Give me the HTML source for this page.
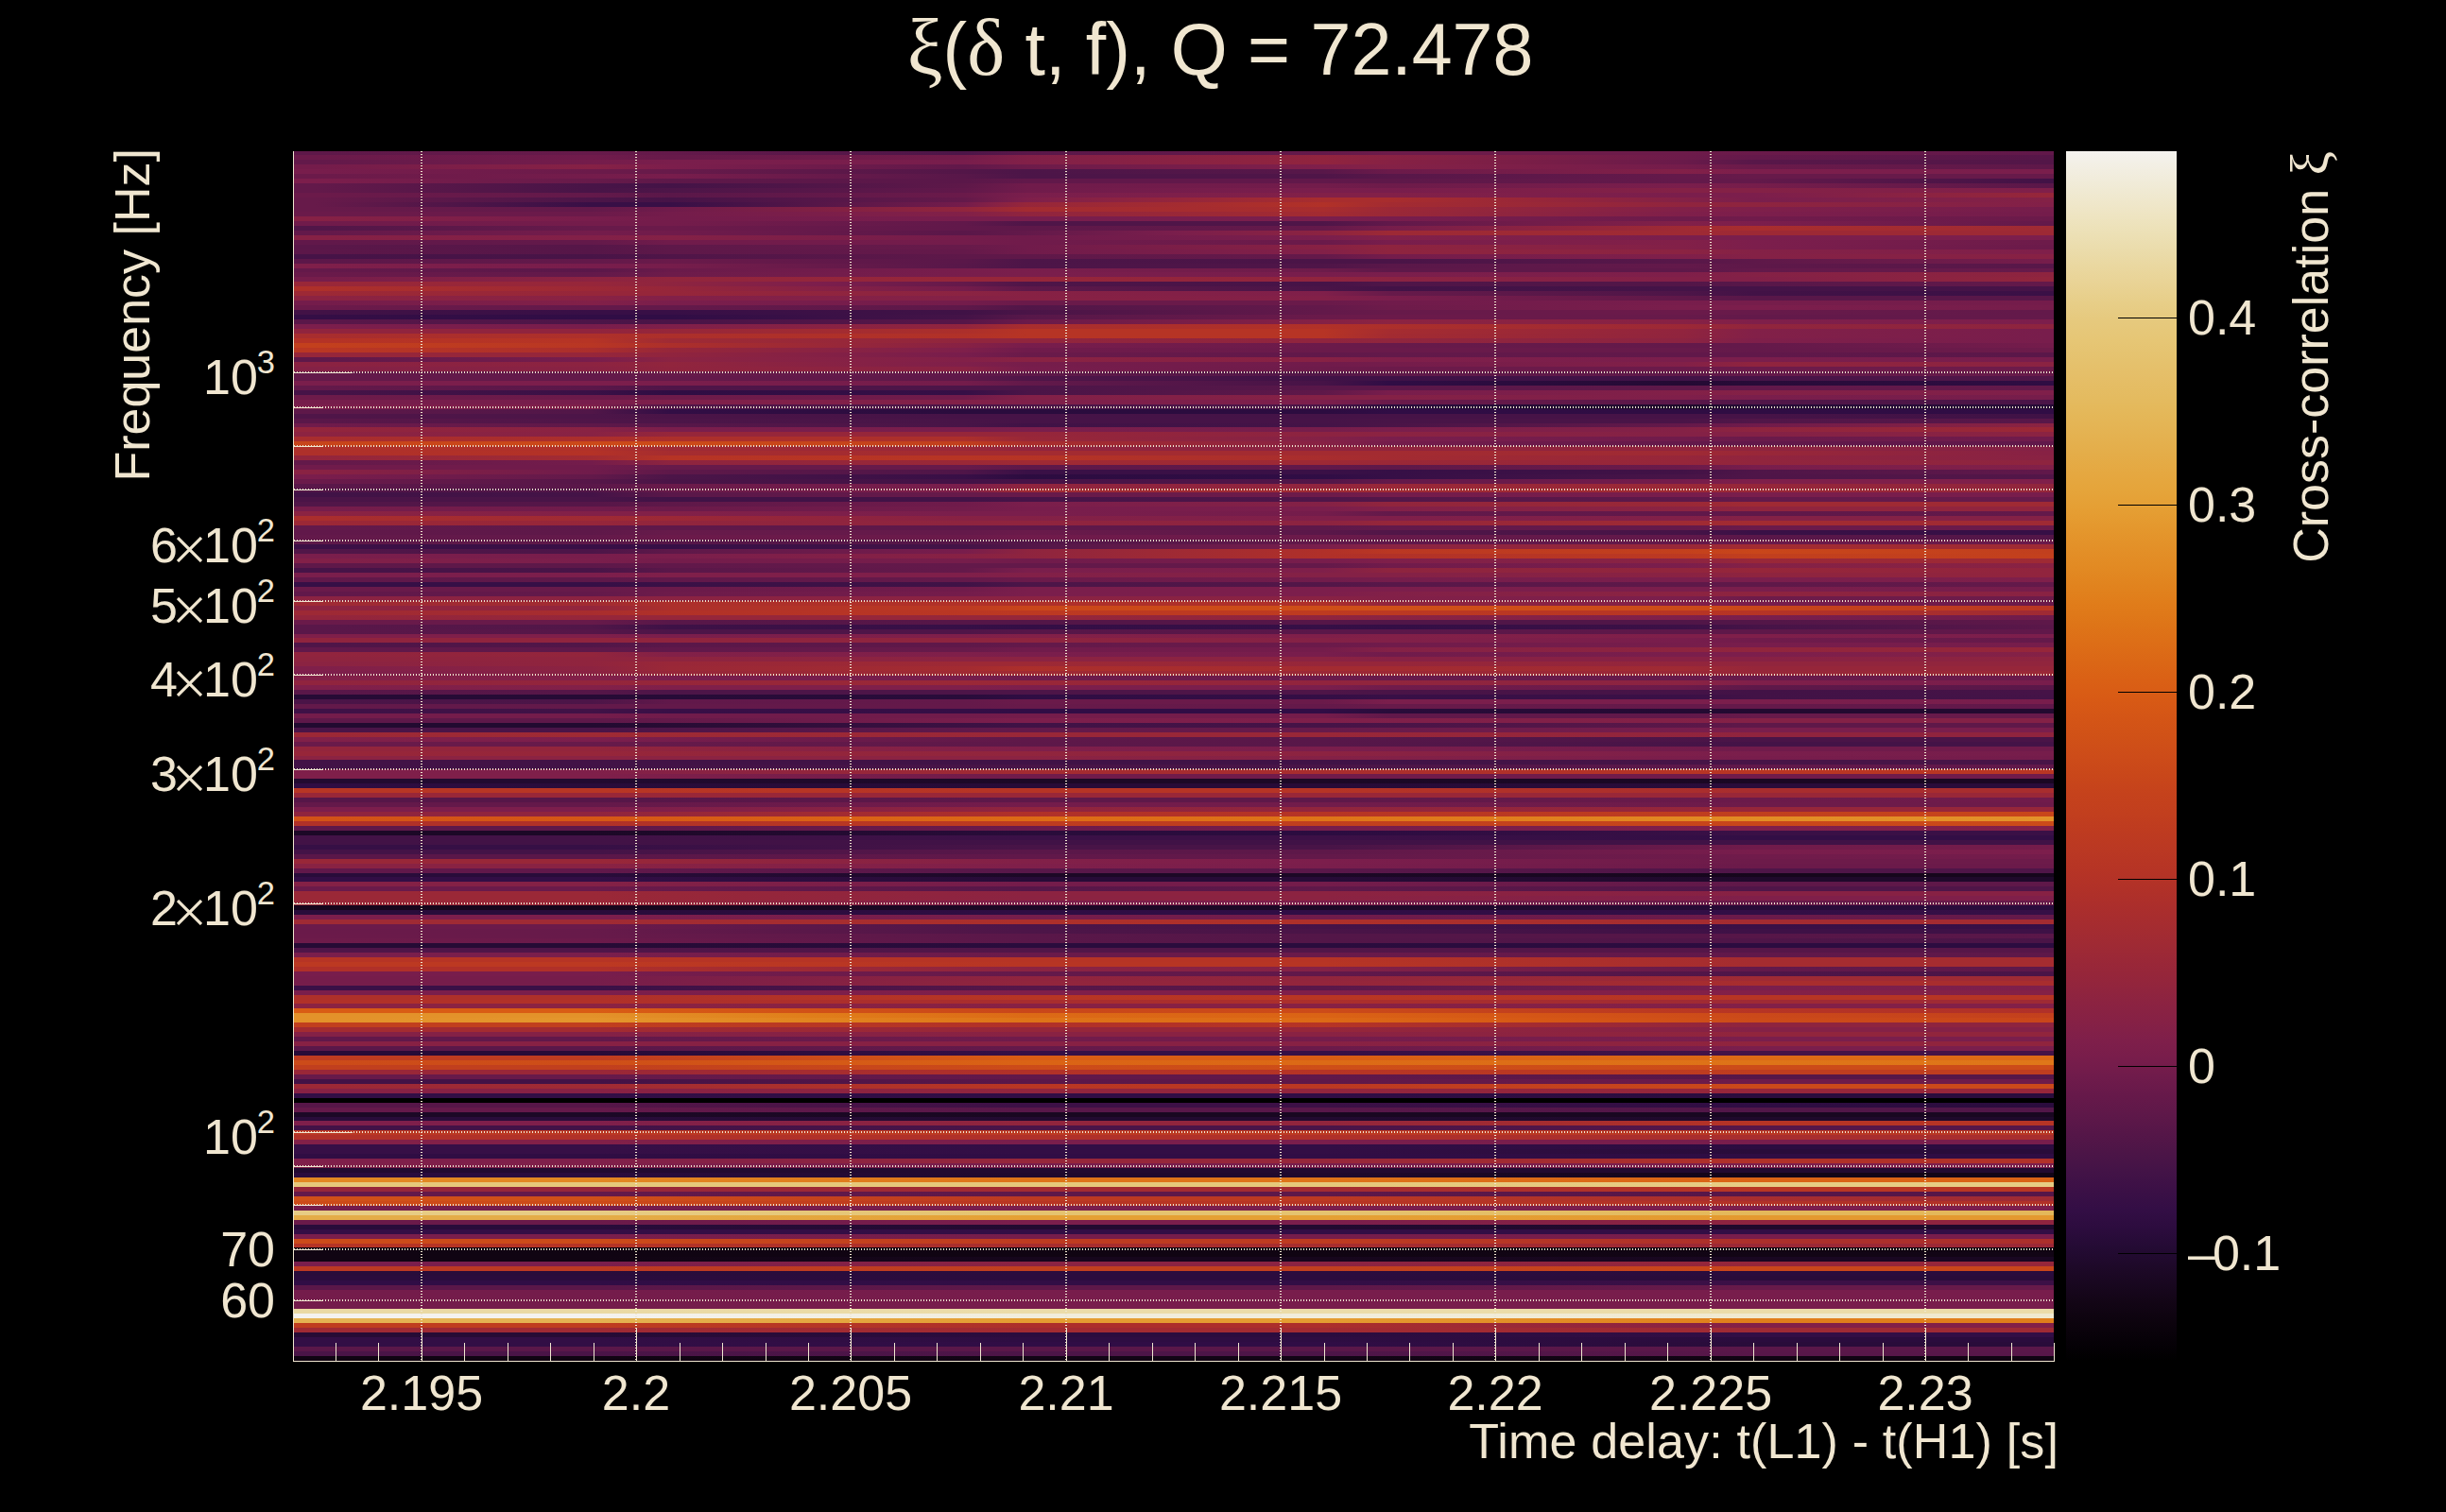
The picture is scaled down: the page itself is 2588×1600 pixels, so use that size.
<!DOCTYPE html>
<html><head><meta charset="utf-8"><title>xi</title>
<style>
html,body{margin:0;padding:0;background:#000;}
body{width:2588px;height:1600px;position:relative;overflow:hidden;font-family:"Liberation Sans",sans-serif;color:#f0e6d0;}
#heat{position:absolute;left:311px;top:160px;width:1862px;height:1280px;overflow:hidden;background:#741c4b}
#heat div{position:absolute;left:0;width:100%}
.vg{position:absolute;top:160px;width:2px;height:1280px;background:repeating-linear-gradient(180deg,#f0e6d0 0 1px,transparent 1px 3px)}
.hg{position:absolute;left:311px;width:1862px;height:2px;background:repeating-linear-gradient(90deg,#f0e6d0 0 1px,transparent 1px 3px)}
.tk{position:absolute;background:#f0e6d0}
.xl{position:absolute;top:1446px;width:300px;text-align:center;font-size:52px;line-height:56px;white-space:nowrap}
.yl{position:absolute;left:0;width:291px;text-align:right;font-size:52px;line-height:56px;white-space:nowrap}
.yl sup{font-size:34.5px;vertical-align:baseline;position:relative;top:-22px;margin-left:-1px;line-height:0}
.yl .x{position:relative;top:0px;margin:0 1px 0 -1px;vertical-align:baseline}
.cl{position:absolute;left:2315px;font-size:52px;line-height:56px;white-space:nowrap}
#title{position:absolute;left:-3px;top:9px;width:2588px;text-align:center;font-size:77.1px;line-height:86px;white-space:nowrap;letter-spacing:0px}
.sym{font-family:"Liberation Serif",serif;font-size:110%;line-height:0}
#xt{letter-spacing:0.15px;position:absolute;right:410px;top:1497px;font-size:52px;line-height:56px;white-space:nowrap}
#yt{position:absolute;left:112px;top:157px;width:56px;height:400px}
#yt>span{position:absolute;right:0;top:0;transform-origin:100% 0;transform:rotate(-90deg) translate(0,-56px);font-size:52px;line-height:56px;white-space:nowrap}
#ct{position:absolute;left:2417px;top:160px;width:56px;height:500px}
#ct>span{position:absolute;right:0;top:0;transform-origin:100% 0;transform:rotate(-90deg) translate(0,-56px);font-size:52px;line-height:56px;white-space:nowrap}
</style></head><body>
<div id="title"><span class="sym">&xi;</span>(<span class="sym">&delta;</span> t, f), Q = 72.478</div>
<div id="heat">
<div style="top:0px;height:4px;background:linear-gradient(90deg,#5e1849 0.0%,#5e1849 1.2%,#671a4a 16.9%,#64194a 21.4%,#4c1548 38.1%,#5a1749 41.6%,#64194a 58.5%,#6d1b4a 62.2%,#6d1b4a 78.9%,#6a1a4a 83.0%,#61184a 99.6%,#61184a 100.0%)"></div>
<div style="top:4px;height:5px;background:linear-gradient(90deg,#6b1a4a 0.0%,#6b1a4a 1.2%,#701b4b 16.9%,#671a4a 21.4%,#741c4b 38.1%,#822048 41.6%,#91243e 58.5%,#892243 62.2%,#6d1b4a 78.9%,#64194a 83.0%,#561648 99.6%,#561648 100.0%)"></div>
<div style="top:9px;height:5px;background:linear-gradient(90deg,#63194a 0.0%,#63194a 1.2%,#741c4b 16.9%,#7a1e4c 21.4%,#781d4c 38.1%,#822048 41.6%,#91243e 58.5%,#872144 62.2%,#6a1a4a 78.9%,#581749 83.0%,#531648 99.6%,#531648 100.0%)"></div>
<div style="top:14px;height:5px;background:linear-gradient(90deg,#741c4b 0.0%,#741c4b 1.2%,#862145 16.9%,#7c1e4c 21.4%,#61184a 38.1%,#6d1b4a 41.6%,#7f1f4a 58.5%,#842146 62.2%,#741c4b 78.9%,#6a1a4a 83.0%,#5e1849 99.6%,#5e1849 100.0%)"></div>
<div style="top:19px;height:5px;background:linear-gradient(90deg,#781d4c 0.0%,#781d4c 1.2%,#6b1a4a 16.9%,#671a4a 21.4%,#531648 38.1%,#4c1548 41.6%,#581749 58.5%,#6b1a4a 62.2%,#822048 78.9%,#7c1e4c 83.0%,#7a1e4c 99.6%,#7a1e4c 100.0%)"></div>
<div style="top:24px;height:5px;background:linear-gradient(90deg,#6b1a4a 0.0%,#6b1a4a 1.2%,#741c4b 16.9%,#781d4c 21.4%,#581749 38.1%,#4c1548 41.6%,#4f1548 58.5%,#581749 62.2%,#64194a 78.9%,#671a4a 83.0%,#671a4a 99.6%,#671a4a 100.0%)"></div>
<div style="top:29px;height:5px;background:linear-gradient(90deg,#7c1e4c 0.0%,#7c1e4c 1.2%,#671a4a 16.9%,#5e1849 21.4%,#5a1749 38.1%,#61184a 41.6%,#61184a 58.5%,#5e1849 62.2%,#63194a 78.9%,#63194a 83.0%,#421246 99.6%,#421246 100.0%)"></div>
<div style="top:34px;height:5px;background:linear-gradient(90deg,#63194a 0.0%,#63194a 1.2%,#481447 16.9%,#441347 21.4%,#5e1849 38.1%,#701b4b 41.6%,#721c4b 58.5%,#6d1b4a 62.2%,#7a1e4c 78.9%,#761d4b 83.0%,#5a1749 99.6%,#5a1749 100.0%)"></div>
<div style="top:39px;height:5px;background:linear-gradient(90deg,#63194a 0.0%,#63194a 1.2%,#481447 16.9%,#4d1548 21.4%,#61184a 38.1%,#701b4b 41.6%,#7a1e4c 58.5%,#781d4c 62.2%,#842146 78.9%,#842146 83.0%,#7f1f4a 99.6%,#7f1f4a 100.0%)"></div>
<div style="top:44px;height:5px;background:linear-gradient(90deg,#6b1a4a 0.0%,#6b1a4a 1.2%,#63194a 16.9%,#5a1749 21.4%,#6a1a4a 38.1%,#7a1e4c 41.6%,#822048 58.5%,#822048 62.2%,#7a1e4c 78.9%,#7c1e4c 83.0%,#96263a 99.6%,#96263a 100.0%)"></div>
<div style="top:49px;height:5px;background:linear-gradient(90deg,#671a4a 0.0%,#671a4a 1.2%,#4c1548 16.9%,#461347 21.4%,#64194a 38.1%,#7e1f4b 41.6%,#94253c 50.0%,#a82d2e 58.5%,#a82d2e 62.2%,#972639 70.6%,#842146 78.9%,#7a1e4c 83.0%,#842146 99.6%,#842146 100.0%)"></div>
<div style="top:54px;height:5px;background:linear-gradient(90deg,#671a4a 0.0%,#671a4a 1.2%,#4f1548 9.0%,#380f46 16.9%,#380f46 21.4%,#561648 29.8%,#741c4b 38.1%,#862145 39.8%,#96263a 41.6%,#b13128 58.5%,#a32b31 62.2%,#90243e 78.9%,#8e243f 83.0%,#822048 99.6%,#822048 100.0%)"></div>
<div style="top:59px;height:5px;background:linear-gradient(90deg,#671a4a 0.0%,#671a4a 1.2%,#63194a 16.9%,#701b4b 21.4%,#91253d 38.1%,#a32b31 41.6%,#a82d2e 58.5%,#9c2836 62.2%,#822048 78.9%,#7f1f4a 83.0%,#761d4b 99.6%,#761d4b 100.0%)"></div>
<div style="top:64px;height:5px;background:linear-gradient(90deg,#6a1a4a 0.0%,#6a1a4a 1.2%,#6b1a4a 16.9%,#741c4b 21.4%,#822048 38.1%,#90243e 41.6%,#a32b31 58.5%,#9a2837 62.2%,#7f1f4a 78.9%,#7c1e4c 83.0%,#741c4b 99.6%,#741c4b 100.0%)"></div>
<div style="top:69px;height:5px;background:linear-gradient(90deg,#862145 0.0%,#862145 1.2%,#781d4c 16.9%,#741c4b 21.4%,#781d4c 38.1%,#781d4c 41.6%,#7a1e4c 58.5%,#781d4c 62.2%,#6d1b4a 78.9%,#701b4b 83.0%,#6b1a4a 99.6%,#6b1a4a 100.0%)"></div>
<div style="top:74px;height:5px;background:linear-gradient(90deg,#701b4b 0.0%,#701b4b 1.2%,#741c4b 16.9%,#741c4b 21.4%,#61184a 38.1%,#4f1548 41.6%,#4f1548 58.5%,#61184a 62.2%,#822048 78.9%,#7c1e4c 83.0%,#64194a 99.6%,#64194a 100.0%)"></div>
<div style="top:79px;height:5px;background:linear-gradient(90deg,#511648 0.0%,#511648 1.2%,#671a4a 16.9%,#6b1a4a 21.4%,#61184a 38.1%,#5e1849 41.6%,#64194a 58.5%,#761d4b 62.2%,#8c2341 70.6%,#9f2a34 78.9%,#a82d2e 83.0%,#9f2a34 99.6%,#9f2a34 100.0%)"></div>
<div style="top:84px;height:5px;background:linear-gradient(90deg,#63194a 0.0%,#63194a 1.2%,#741c4b 16.9%,#701b4b 21.4%,#5a1749 38.1%,#63194a 41.6%,#7a1e4c 50.0%,#8c2341 58.5%,#9d2935 62.2%,#9f2a34 78.9%,#9d2935 83.0%,#9d2935 99.6%,#9d2935 100.0%)"></div>
<div style="top:89px;height:5px;background:linear-gradient(90deg,#862145 0.0%,#862145 1.2%,#822048 16.9%,#842146 21.4%,#741c4b 38.1%,#701b4b 41.6%,#7a1e4c 58.5%,#822048 62.2%,#7a1e4c 78.9%,#7a1e4c 83.0%,#7c1e4c 99.6%,#7c1e4c 100.0%)"></div>
<div style="top:94px;height:5px;background:linear-gradient(90deg,#61184a 0.0%,#61184a 1.2%,#63194a 16.9%,#701b4b 21.4%,#741c4b 38.1%,#701b4b 41.6%,#6a1a4a 58.5%,#781d4c 62.2%,#822048 78.9%,#7c1e4c 83.0%,#6d1b4a 99.6%,#6d1b4a 100.0%)"></div>
<div style="top:99px;height:5px;background:linear-gradient(90deg,#5a1749 0.0%,#5a1749 1.2%,#561648 16.9%,#5e1849 21.4%,#671a4a 38.1%,#701b4b 41.6%,#872144 58.5%,#8e243f 62.2%,#822048 78.9%,#7c1e4c 83.0%,#6b1a4a 99.6%,#6b1a4a 100.0%)"></div>
<div style="top:104px;height:5px;background:linear-gradient(90deg,#5c1749 0.0%,#5c1749 1.2%,#561648 16.9%,#5e1849 21.4%,#64194a 38.1%,#701b4b 41.6%,#822048 58.5%,#8e243f 62.2%,#8b2342 78.9%,#842146 83.0%,#7f1f4a 99.6%,#7f1f4a 100.0%)"></div>
<div style="top:109px;height:5px;background:linear-gradient(90deg,#461347 0.0%,#461347 1.2%,#481447 16.9%,#4f1548 21.4%,#5e1849 38.1%,#5f1849 41.6%,#64194a 58.5%,#741c4b 62.2%,#7f1f4a 78.9%,#842146 83.0%,#872144 99.6%,#872144 100.0%)"></div>
<div style="top:114px;height:5px;background:linear-gradient(90deg,#5c1749 0.0%,#5c1749 1.2%,#63194a 16.9%,#6a1a4a 21.4%,#5a1749 38.1%,#4d1548 41.6%,#4a1447 58.5%,#4a1447 62.2%,#581749 78.9%,#5e1849 83.0%,#761d4b 99.6%,#761d4b 100.0%)"></div>
<div style="top:119px;height:5px;background:linear-gradient(90deg,#7f1f4a 0.0%,#7f1f4a 1.2%,#781d4c 16.9%,#761d4b 21.4%,#581749 38.1%,#4d1548 41.6%,#4f1548 58.5%,#5a1749 62.2%,#63194a 78.9%,#5e1849 83.0%,#581749 99.6%,#581749 100.0%)"></div>
<div style="top:124px;height:4px;background:linear-gradient(90deg,#64194a 0.0%,#64194a 1.2%,#5a1749 16.9%,#6a1a4a 21.4%,#781d4c 38.1%,#7a1e4c 41.6%,#6d1b4a 58.5%,#5e1849 62.2%,#5e1849 78.9%,#63194a 83.0%,#671a4a 99.6%,#671a4a 100.0%)"></div>
<div style="top:128px;height:5px;background:linear-gradient(90deg,#6a1a4a 0.0%,#6a1a4a 1.2%,#63194a 16.9%,#6d1b4a 21.4%,#781d4c 38.1%,#7a1e4c 41.6%,#781d4c 58.5%,#7a1e4c 62.2%,#7f1f4a 78.9%,#842146 83.0%,#8e243f 99.6%,#8e243f 100.0%)"></div>
<div style="top:133px;height:5px;background:linear-gradient(90deg,#761d4b 0.0%,#761d4b 1.2%,#8c2341 16.9%,#91253d 21.4%,#96263a 38.1%,#96263a 41.6%,#90243e 58.5%,#8b2342 62.2%,#822048 78.9%,#822048 83.0%,#91253d 99.6%,#91253d 100.0%)"></div>
<div style="top:138px;height:5px;background:linear-gradient(90deg,#992738 0.0%,#992738 1.2%,#96263a 16.9%,#8e243f 21.4%,#7c1e4c 29.8%,#64194a 38.1%,#4f1548 41.6%,#461347 58.5%,#4f1548 62.2%,#531648 78.9%,#581749 83.0%,#63194a 99.6%,#63194a 100.0%)"></div>
<div style="top:143px;height:5px;background:linear-gradient(90deg,#ae302a 0.0%,#ae302a 1.2%,#9c2836 16.9%,#96263a 21.4%,#862145 29.8%,#741c4b 38.1%,#5e1849 41.6%,#4a1447 58.5%,#421246 62.2%,#441347 78.9%,#441347 83.0%,#461347 99.6%,#461347 100.0%)"></div>
<div style="top:148px;height:5px;background:linear-gradient(90deg,#9d2935 0.0%,#9d2935 1.2%,#96263a 16.9%,#96263a 21.4%,#8b2342 38.1%,#872144 41.6%,#7f1f4a 58.5%,#671a4a 62.2%,#4d1548 78.9%,#421246 83.0%,#3a1046 99.6%,#3a1046 100.0%)"></div>
<div style="top:153px;height:5px;background:linear-gradient(90deg,#8c2341 0.0%,#8c2341 1.2%,#892243 16.9%,#822048 21.4%,#842146 38.1%,#872144 41.6%,#822048 58.5%,#7a1e4c 62.2%,#5f1849 78.9%,#581749 83.0%,#581749 99.6%,#581749 100.0%)"></div>
<div style="top:158px;height:5px;background:linear-gradient(90deg,#741c4b 0.0%,#741c4b 1.2%,#822048 16.9%,#7a1e4c 21.4%,#741c4b 38.1%,#6a1a4a 41.6%,#6a1a4a 58.5%,#701b4b 62.2%,#781d4c 78.9%,#761d4b 83.0%,#741c4b 99.6%,#741c4b 100.0%)"></div>
<div style="top:163px;height:5px;background:linear-gradient(90deg,#6b1a4a 0.0%,#6b1a4a 1.2%,#63194a 16.9%,#63194a 21.4%,#5e1849 38.1%,#511648 41.6%,#63194a 58.5%,#6d1b4a 62.2%,#7a1e4c 78.9%,#7c1e4c 83.0%,#761d4b 99.6%,#761d4b 100.0%)"></div>
<div style="top:168px;height:5px;background:linear-gradient(90deg,#421246 0.0%,#421246 1.2%,#380f46 16.9%,#380f46 21.4%,#401246 38.1%,#4a1447 41.6%,#63194a 58.5%,#671a4a 62.2%,#6b1a4a 78.9%,#671a4a 83.0%,#63194a 99.6%,#63194a 100.0%)"></div>
<div style="top:173px;height:5px;background:linear-gradient(90deg,#340e45 0.0%,#340e45 1.2%,#300d45 16.9%,#300d45 21.4%,#441347 38.1%,#571749 41.6%,#6a1a4a 58.5%,#6b1a4a 62.2%,#671a4a 78.9%,#63194a 83.0%,#64194a 99.6%,#64194a 100.0%)"></div>
<div style="top:178px;height:5px;background:linear-gradient(90deg,#5a1749 0.0%,#5a1749 1.2%,#4c1548 16.9%,#4a1447 21.4%,#561648 38.1%,#6a1a4a 41.6%,#842146 58.5%,#8b2342 62.2%,#872144 78.9%,#7f1f4a 83.0%,#7c1e4c 99.6%,#7c1e4c 100.0%)"></div>
<div style="top:183px;height:5px;background:linear-gradient(90deg,#7c1e4c 0.0%,#7c1e4c 1.2%,#781d4c 16.9%,#7f1f4a 21.4%,#91243e 38.1%,#a82d2e 41.6%,#b13128 58.5%,#ac2f2b 62.2%,#9c2836 78.9%,#91253d 83.0%,#8e243f 99.6%,#8e243f 100.0%)"></div>
<div style="top:188px;height:5px;background:linear-gradient(90deg,#90243e 0.0%,#90243e 1.2%,#90243e 16.9%,#96263a 21.4%,#ac2f2b 38.1%,#b63425 41.6%,#b63425 58.5%,#a52c30 62.2%,#91243e 78.9%,#822048 83.0%,#781d4c 99.6%,#781d4c 100.0%)"></div>
<div style="top:193px;height:5px;background:linear-gradient(90deg,#a82d2e 0.0%,#a82d2e 1.2%,#ae302a 16.9%,#ac2f2b 21.4%,#b13128 38.1%,#b63425 41.6%,#b63425 58.5%,#a32b31 62.2%,#90243e 78.9%,#822048 83.0%,#781d4c 99.6%,#781d4c 100.0%)"></div>
<div style="top:198px;height:5px;background:linear-gradient(90deg,#b43226 0.0%,#b43226 1.2%,#b63425 16.9%,#9f2a34 21.4%,#91253d 38.1%,#91253d 41.6%,#90243e 58.5%,#91253d 62.2%,#8c2341 78.9%,#7f1f4a 83.0%,#781d4c 99.6%,#781d4c 100.0%)"></div>
<div style="top:203px;height:5px;background:linear-gradient(90deg,#c3401d 0.0%,#c3401d 1.2%,#b83624 16.9%,#ac2f2b 21.4%,#9a2837 29.8%,#872144 38.1%,#781d4c 41.6%,#6b1a4a 58.5%,#671a4a 62.2%,#63194a 78.9%,#64194a 83.0%,#741c4b 99.6%,#741c4b 100.0%)"></div>
<div style="top:208px;height:5px;background:linear-gradient(90deg,#ba3723 0.0%,#ba3723 1.2%,#ab2e2c 16.9%,#96263a 21.4%,#7f1f4a 38.1%,#701b4b 41.6%,#6a1a4a 58.5%,#6a1a4a 62.2%,#671a4a 78.9%,#64194a 83.0%,#6d1b4a 99.6%,#6d1b4a 100.0%)"></div>
<div style="top:213px;height:5px;background:linear-gradient(90deg,#96263a 0.0%,#96263a 1.2%,#96263a 16.9%,#90243e 21.4%,#781d4c 38.1%,#6a1a4a 41.6%,#61184a 58.5%,#63194a 62.2%,#61184a 78.9%,#61184a 83.0%,#5a1749 99.6%,#5a1749 100.0%)"></div>
<div style="top:218px;height:5px;background:linear-gradient(90deg,#5e1849 0.0%,#5e1849 1.2%,#781d4c 16.9%,#8b2342 21.4%,#822048 38.1%,#892243 41.6%,#872144 58.5%,#7f1f4a 62.2%,#7a1e4c 78.9%,#7a1e4c 83.0%,#781d4c 99.6%,#781d4c 100.0%)"></div>
<div style="top:223px;height:5px;background:linear-gradient(90deg,#8a2242 0.0%,#8a2242 1.2%,#8c2341 16.9%,#91253d 21.4%,#7f1f4a 38.1%,#761d4b 41.6%,#701b4b 58.5%,#741c4b 62.2%,#822048 78.9%,#90243e 83.0%,#8b2342 99.6%,#8b2342 100.0%)"></div>
<div style="top:228px;height:5px;background:linear-gradient(90deg,#842146 0.0%,#842146 1.2%,#892243 16.9%,#90243e 21.4%,#892243 38.1%,#781d4c 41.6%,#6d1b4a 58.5%,#6b1a4a 62.2%,#6b1a4a 78.9%,#6d1b4a 83.0%,#6d1b4a 99.6%,#6d1b4a 100.0%)"></div>
<div style="top:233px;height:5px;background:linear-gradient(90deg,#63194a 0.0%,#63194a 1.2%,#63194a 16.9%,#671a4a 21.4%,#61184a 38.1%,#5f1849 41.6%,#511648 58.5%,#5e1849 62.2%,#5f1849 78.9%,#64194a 83.0%,#671a4a 99.6%,#671a4a 100.0%)"></div>
<div style="top:238px;height:5px;background:linear-gradient(90deg,#63194a 0.0%,#63194a 1.2%,#63194a 16.9%,#64194a 21.4%,#5e1849 38.1%,#4f1548 41.6%,#401246 58.5%,#3e1146 62.2%,#401246 78.9%,#461347 83.0%,#511648 99.6%,#511648 100.0%)"></div>
<div style="top:243px;height:5px;background:linear-gradient(90deg,#7a1e4c 0.0%,#7a1e4c 1.2%,#7c1e4c 16.9%,#7a1e4c 21.4%,#741c4b 38.1%,#63194a 41.6%,#461347 58.5%,#300d45 62.2%,#240a33 78.9%,#280b38 83.0%,#2f0d43 99.6%,#2f0d43 100.0%)"></div>
<div style="top:248px;height:5px;background:linear-gradient(90deg,#63194a 0.0%,#63194a 1.2%,#5a1749 16.9%,#4f1548 21.4%,#4c1548 38.1%,#4c1548 41.6%,#581749 58.5%,#5a1749 62.2%,#5e1849 78.9%,#61184a 83.0%,#63194a 99.6%,#63194a 100.0%)"></div>
<div style="top:253px;height:5px;background:linear-gradient(90deg,#461347 0.0%,#461347 1.2%,#3a1046 16.9%,#2f0d43 21.4%,#360f46 38.1%,#4a1447 41.6%,#5f1849 58.5%,#781d4c 62.2%,#822048 78.9%,#842146 83.0%,#7f1f4a 99.6%,#7f1f4a 100.0%)"></div>
<div style="top:258px;height:5px;background:linear-gradient(90deg,#6d1b4a 0.0%,#6d1b4a 1.2%,#6b1a4a 16.9%,#6d1b4a 21.4%,#701b4b 38.1%,#822048 41.6%,#842146 58.5%,#842146 62.2%,#7f1f4a 78.9%,#7a1e4c 83.0%,#761d4b 99.6%,#761d4b 100.0%)"></div>
<div style="top:263px;height:5px;background:linear-gradient(90deg,#761d4b 0.0%,#761d4b 1.2%,#781d4c 16.9%,#7f1f4a 21.4%,#822048 38.1%,#7f1f4a 41.6%,#7c1e4c 58.5%,#6a1a4a 62.2%,#5a1749 78.9%,#511648 83.0%,#4a1447 99.6%,#4a1447 100.0%)"></div>
<div style="top:268px;height:5px;background:linear-gradient(90deg,#7c1e4c 0.0%,#7c1e4c 1.2%,#7f1f4a 16.9%,#691a4a 19.2%,#511648 21.4%,#4c1548 38.1%,#4c1548 41.6%,#4c1548 58.5%,#2a0c3d 62.2%,#1f092b 78.9%,#270b37 83.0%,#270b37 99.6%,#270b37 100.0%)"></div>
<div style="top:273px;height:5px;background:linear-gradient(90deg,#5e1849 0.0%,#5e1849 1.2%,#511648 16.9%,#320e45 21.4%,#2a0c3d 38.1%,#2a0c3d 41.6%,#2c0c40 58.5%,#300d45 62.2%,#2f0d43 78.9%,#2f0d43 83.0%,#300d45 99.6%,#300d45 100.0%)"></div>
<div style="top:278px;height:5px;background:linear-gradient(90deg,#4f1548 0.0%,#4f1548 1.2%,#4c1548 16.9%,#4a1447 21.4%,#461347 38.1%,#461347 41.6%,#441347 58.5%,#461347 62.2%,#461347 78.9%,#461347 83.0%,#401246 99.6%,#401246 100.0%)"></div>
<div style="top:283px;height:5px;background:linear-gradient(90deg,#5a1749 0.0%,#5a1749 1.2%,#4f1548 16.9%,#4c1548 21.4%,#481447 38.1%,#461347 41.6%,#461347 58.5%,#481447 62.2%,#4a1447 78.9%,#511648 83.0%,#581749 99.6%,#581749 100.0%)"></div>
<div style="top:288px;height:4px;background:linear-gradient(90deg,#701b4b 0.0%,#701b4b 1.2%,#5e1849 16.9%,#581749 21.4%,#481447 38.1%,#401246 41.6%,#441347 58.5%,#4a1447 62.2%,#64194a 78.9%,#701b4b 83.0%,#8b2342 99.6%,#8b2342 100.0%)"></div>
<div style="top:292px;height:5px;background:linear-gradient(90deg,#93253c 0.0%,#93253c 1.2%,#892243 16.9%,#7a1e4c 21.4%,#781d4c 38.1%,#7a1e4c 41.6%,#761d4b 58.5%,#7a1e4c 62.2%,#842146 78.9%,#8e243f 83.0%,#9c2836 99.6%,#9c2836 100.0%)"></div>
<div style="top:297px;height:5px;background:linear-gradient(90deg,#8c2341 0.0%,#8c2341 1.2%,#882244 16.9%,#96263a 21.4%,#96263a 38.1%,#96263a 41.6%,#8c2341 58.5%,#8b2342 62.2%,#842146 78.9%,#842146 83.0%,#8b2342 99.6%,#8b2342 100.0%)"></div>
<div style="top:302px;height:5px;background:linear-gradient(90deg,#a82d2e 0.0%,#a82d2e 1.2%,#ab2e2c 16.9%,#ac2f2b 21.4%,#ac2f2b 38.1%,#992738 41.6%,#842146 58.5%,#7a1e4c 62.2%,#701b4b 78.9%,#6a1a4a 83.0%,#701b4b 99.6%,#701b4b 100.0%)"></div>
<div style="top:307px;height:5px;background:linear-gradient(90deg,#c7441b 0.0%,#c7441b 1.2%,#cb491a 16.9%,#cc4b19 21.4%,#c13f1e 38.1%,#b73524 39.8%,#aa2e2d 41.6%,#992738 50.0%,#872144 58.5%,#741c4b 62.2%,#64194a 78.9%,#61184a 83.0%,#61184a 99.6%,#61184a 100.0%)"></div>
<div style="top:312px;height:5px;background:linear-gradient(90deg,#ae302a 0.0%,#ae302a 1.2%,#b13128 16.9%,#9f2a34 21.4%,#992738 38.1%,#91243e 41.6%,#8b2342 58.5%,#90243e 62.2%,#90243e 78.9%,#8e243f 83.0%,#842146 99.6%,#842146 100.0%)"></div>
<div style="top:317px;height:5px;background:linear-gradient(90deg,#ae302a 0.0%,#ae302a 1.2%,#b43226 16.9%,#a52c30 21.4%,#a32b31 38.1%,#a32b31 41.6%,#a32b31 58.5%,#a32b31 62.2%,#9f2a34 78.9%,#992738 83.0%,#872144 99.6%,#872144 100.0%)"></div>
<div style="top:322px;height:5px;background:linear-gradient(90deg,#93253c 0.0%,#93253c 1.2%,#a22b32 16.9%,#b63425 21.4%,#b73524 38.1%,#b63425 41.6%,#a82d2e 58.5%,#a32b31 62.2%,#96263a 78.9%,#91243e 83.0%,#892243 99.6%,#892243 100.0%)"></div>
<div style="top:327px;height:5px;background:linear-gradient(90deg,#63194a 0.0%,#63194a 1.2%,#741c4b 16.9%,#8e243f 21.4%,#9a2837 38.1%,#9f2a34 41.6%,#9d2935 58.5%,#9a2837 62.2%,#96263a 78.9%,#91253d 83.0%,#8e243f 99.6%,#8e243f 100.0%)"></div>
<div style="top:332px;height:5px;background:linear-gradient(90deg,#701b4b 0.0%,#701b4b 1.2%,#701b4b 16.9%,#671a4a 21.4%,#671a4a 38.1%,#5e1849 41.6%,#61184a 58.5%,#5e1849 62.2%,#6b1a4a 78.9%,#781d4c 83.0%,#822048 99.6%,#822048 100.0%)"></div>
<div style="top:337px;height:5px;background:linear-gradient(90deg,#892243 0.0%,#892243 1.2%,#701b4b 16.9%,#5e1849 21.4%,#4f1548 38.1%,#3a1046 41.6%,#3a1046 58.5%,#360f46 62.2%,#421246 78.9%,#4f1548 83.0%,#61184a 99.6%,#61184a 100.0%)"></div>
<div style="top:342px;height:5px;background:linear-gradient(90deg,#7a1d4c 0.0%,#7a1d4c 1.2%,#63194a 16.9%,#4c1548 21.4%,#380f46 38.1%,#2c0c40 41.6%,#300d45 58.5%,#360f46 62.2%,#481447 78.9%,#4f1548 83.0%,#531648 99.6%,#531648 100.0%)"></div>
<div style="top:347px;height:5px;background:linear-gradient(90deg,#6b1a4a 0.0%,#6b1a4a 1.2%,#561648 16.9%,#4a1447 21.4%,#421246 38.1%,#461347 41.6%,#511648 58.5%,#63194a 62.2%,#741c4b 78.9%,#7f1f4a 83.0%,#7f1f4a 99.6%,#7f1f4a 100.0%)"></div>
<div style="top:352px;height:5px;background:linear-gradient(90deg,#5a1749 0.0%,#5a1749 1.2%,#5a1749 16.9%,#6a1a4a 21.4%,#7a1e4c 38.1%,#90243e 41.6%,#91243e 58.5%,#992738 62.2%,#9a2837 78.9%,#96263a 83.0%,#91253d 99.6%,#91253d 100.0%)"></div>
<div style="top:357px;height:4px;background:linear-gradient(90deg,#511648 0.0%,#511648 1.2%,#511648 16.9%,#671a4a 21.4%,#7f1f4a 38.1%,#90243e 39.8%,#9f2a34 41.6%,#9f2a34 58.5%,#9f2a34 62.2%,#9f2a34 78.9%,#992738 83.0%,#96263a 99.6%,#96263a 100.0%)"></div>
<div style="top:361px;height:5px;background:linear-gradient(90deg,#401246 0.0%,#401246 1.2%,#441347 16.9%,#5a1749 21.4%,#671a4a 38.1%,#671a4a 41.6%,#6d1b4a 58.5%,#741c4b 62.2%,#781d4c 78.9%,#7a1e4c 83.0%,#781d4c 99.6%,#781d4c 100.0%)"></div>
<div style="top:366px;height:5px;background:linear-gradient(90deg,#4a1447 0.0%,#4a1447 1.2%,#481447 16.9%,#401246 21.4%,#421246 38.1%,#461347 41.6%,#4f1548 58.5%,#531648 62.2%,#5e1849 78.9%,#63194a 83.0%,#671a4a 99.6%,#671a4a 100.0%)"></div>
<div style="top:371px;height:5px;background:linear-gradient(90deg,#511648 0.0%,#511648 1.2%,#561648 16.9%,#5e1849 21.4%,#701b4b 38.1%,#7a1e4c 41.6%,#842146 58.5%,#91253d 62.2%,#9a2837 78.9%,#9f2a34 83.0%,#9f2a34 99.6%,#9f2a34 100.0%)"></div>
<div style="top:376px;height:5px;background:linear-gradient(90deg,#761d4b 0.0%,#761d4b 1.2%,#701b4b 16.9%,#6b1a4a 21.4%,#721c4b 38.1%,#781d4c 41.6%,#7a1e4c 58.5%,#822048 62.2%,#8b2342 78.9%,#90243e 83.0%,#91243e 99.6%,#91243e 100.0%)"></div>
<div style="top:381px;height:5px;background:linear-gradient(90deg,#8b2342 0.0%,#8b2342 1.2%,#822048 16.9%,#822048 21.4%,#7a1e4c 38.1%,#7a1e4c 41.6%,#741c4b 58.5%,#63194a 62.2%,#61184a 78.9%,#5f1849 83.0%,#63194a 99.6%,#63194a 100.0%)"></div>
<div style="top:386px;height:5px;background:linear-gradient(90deg,#aa2e2d 0.0%,#aa2e2d 1.2%,#9f2a34 16.9%,#9c2836 21.4%,#872144 38.1%,#842146 41.6%,#7f1f4a 58.5%,#7f1f4a 62.2%,#822048 78.9%,#842146 83.0%,#842146 99.6%,#842146 100.0%)"></div>
<div style="top:391px;height:5px;background:linear-gradient(90deg,#9c2836 0.0%,#9c2836 1.2%,#96263a 16.9%,#91253d 21.4%,#8e243f 38.1%,#90243e 41.6%,#8c2341 58.5%,#96263a 62.2%,#9f2a34 78.9%,#a32b31 83.0%,#9f2a34 99.6%,#9f2a34 100.0%)"></div>
<div style="top:396px;height:5px;background:linear-gradient(90deg,#63194a 0.0%,#63194a 1.2%,#5e1849 16.9%,#5f1849 21.4%,#5e1849 38.1%,#5f1849 41.6%,#5e1849 58.5%,#63194a 62.2%,#64194a 78.9%,#6b1a4a 83.0%,#6b1a4a 99.6%,#6b1a4a 100.0%)"></div>
<div style="top:401px;height:5px;background:linear-gradient(90deg,#61184a 0.0%,#61184a 1.2%,#5e1849 16.9%,#671a4a 21.4%,#64194a 38.1%,#6a1a4a 41.6%,#5a1749 58.5%,#511648 62.2%,#461347 78.9%,#3a1046 83.0%,#360f46 99.6%,#360f46 100.0%)"></div>
<div style="top:406px;height:5px;background:linear-gradient(90deg,#63194a 0.0%,#63194a 1.2%,#63194a 16.9%,#6b1a4a 21.4%,#6a1a4a 38.1%,#701b4b 41.6%,#6b1a4a 58.5%,#671a4a 62.2%,#61184a 78.9%,#5a1749 83.0%,#531648 99.6%,#531648 100.0%)"></div>
<div style="top:411px;height:5px;background:linear-gradient(90deg,#5e1849 0.0%,#5e1849 1.2%,#5e1849 16.9%,#561648 21.4%,#561648 38.1%,#531648 41.6%,#63194a 58.5%,#61184a 62.2%,#64194a 78.9%,#6a1a4a 83.0%,#6a1a4a 99.6%,#6a1a4a 100.0%)"></div>
<div style="top:416px;height:5px;background:linear-gradient(90deg,#3c1046 0.0%,#3c1046 1.2%,#380f46 16.9%,#360f46 21.4%,#441347 38.1%,#531648 41.6%,#7a1e4c 58.5%,#8b2342 62.2%,#992738 78.9%,#a32b31 83.0%,#9f2a34 99.6%,#9f2a34 100.0%)"></div>
<div style="top:421px;height:5px;background:linear-gradient(90deg,#511648 0.0%,#511648 1.2%,#4c1548 16.9%,#5e1849 21.4%,#781d4c 38.1%,#8e243f 41.6%,#9f2a34 50.0%,#b03029 58.5%,#ba3723 62.2%,#c3401d 78.9%,#c9461a 83.0%,#c13f1e 99.6%,#c13f1e 100.0%)"></div>
<div style="top:426px;height:5px;background:linear-gradient(90deg,#7a1e4c 0.0%,#7a1e4c 1.2%,#781d4c 16.9%,#7a1e4c 21.4%,#872144 38.1%,#8e243f 41.6%,#9f2a34 50.0%,#b03029 58.5%,#b13128 62.2%,#bc3922 78.9%,#c13f1e 83.0%,#c3401d 99.6%,#c3401d 100.0%)"></div>
<div style="top:431px;height:5px;background:linear-gradient(90deg,#822048 0.0%,#822048 1.2%,#7a1e4c 16.9%,#741c4b 21.4%,#761d4b 38.1%,#701b4b 41.6%,#781d4c 58.5%,#7f1f4a 62.2%,#8b2342 78.9%,#992738 83.0%,#9f2a34 99.6%,#9f2a34 100.0%)"></div>
<div style="top:436px;height:5px;background:linear-gradient(90deg,#5f1849 0.0%,#5f1849 1.2%,#5d1849 16.9%,#61184a 21.4%,#63194a 38.1%,#63194a 41.6%,#64194a 58.5%,#701b4b 62.2%,#7a1e4c 78.9%,#842146 83.0%,#892243 99.6%,#892243 100.0%)"></div>
<div style="top:441px;height:5px;background:linear-gradient(90deg,#461347 0.0%,#461347 1.2%,#481447 16.9%,#5a1749 21.4%,#64194a 38.1%,#7a1e4c 41.6%,#7f1f4a 58.5%,#8e243f 62.2%,#91253d 78.9%,#96263a 83.0%,#91243e 99.6%,#91243e 100.0%)"></div>
<div style="top:446px;height:5px;background:linear-gradient(90deg,#7a1e4c 0.0%,#7a1e4c 1.2%,#7c1e4c 16.9%,#7f1f4a 21.4%,#7f1f4a 38.1%,#822048 41.6%,#842146 58.5%,#842146 62.2%,#892243 78.9%,#8e243f 83.0%,#91243e 99.6%,#91243e 100.0%)"></div>
<div style="top:451px;height:5px;background:linear-gradient(90deg,#61184a 0.0%,#61184a 1.2%,#5e1849 16.9%,#61184a 21.4%,#64194a 38.1%,#6b1a4a 41.6%,#721c4b 58.5%,#761d4b 62.2%,#7a1e4c 78.9%,#7a1e4c 83.0%,#7f1f4a 99.6%,#7f1f4a 100.0%)"></div>
<div style="top:456px;height:5px;background:linear-gradient(90deg,#360f46 0.0%,#360f46 1.2%,#360f46 16.9%,#3a1046 21.4%,#401246 38.1%,#4c1548 41.6%,#531648 58.5%,#581749 62.2%,#5e1849 78.9%,#5f1849 83.0%,#63194a 99.6%,#63194a 100.0%)"></div>
<div style="top:461px;height:5px;background:linear-gradient(90deg,#6a1a4a 0.0%,#6a1a4a 1.2%,#671a4a 16.9%,#6b1a4a 21.4%,#701b4b 38.1%,#7a1e4c 41.6%,#7c1e4c 58.5%,#7c1e4c 62.2%,#7a1e4c 78.9%,#7a1e4c 83.0%,#761d4b 99.6%,#761d4b 100.0%)"></div>
<div style="top:466px;height:5px;background:linear-gradient(90deg,#61184a 0.0%,#61184a 1.2%,#63194a 16.9%,#6d1b4a 21.4%,#741c4b 38.1%,#7a1e4c 41.6%,#7c1e4c 58.5%,#822048 62.2%,#8b2342 78.9%,#8e243f 83.0%,#892243 99.6%,#892243 100.0%)"></div>
<div style="top:471px;height:5px;background:linear-gradient(90deg,#8b2342 0.0%,#8b2342 1.2%,#8c2341 16.9%,#8b2342 21.4%,#8b2342 38.1%,#8b2342 41.6%,#892243 58.5%,#822048 62.2%,#7a1e4c 78.9%,#6d1b4a 83.0%,#6d1b4a 99.6%,#6d1b4a 100.0%)"></div>
<div style="top:476px;height:5px;background:linear-gradient(90deg,#9f2a34 0.0%,#9f2a34 1.2%,#a22b32 16.9%,#ac2f2b 21.4%,#b13128 38.1%,#ae302a 41.6%,#ae302a 58.5%,#9f2a34 60.4%,#90243e 62.2%,#822048 78.9%,#781d4c 83.0%,#6b1a4a 99.6%,#6b1a4a 100.0%)"></div>
<div style="top:481px;height:5px;background:linear-gradient(90deg,#8c2341 0.0%,#8c2341 1.2%,#93253c 16.9%,#ac2f2b 21.4%,#bc3922 38.1%,#c9461a 41.6%,#ce4e18 58.5%,#d05018 62.2%,#cc4b19 78.9%,#c9461a 83.0%,#b93623 99.6%,#b93623 100.0%)"></div>
<div style="top:486px;height:5px;background:linear-gradient(90deg,#9d2935 0.0%,#9d2935 1.2%,#a82d2e 16.9%,#b13128 21.4%,#ba3723 38.1%,#bc3922 41.6%,#be3b20 58.5%,#bc3922 62.2%,#b73524 78.9%,#b63425 83.0%,#9f2a34 99.6%,#9f2a34 100.0%)"></div>
<div style="top:491px;height:5px;background:linear-gradient(90deg,#93253c 0.0%,#93253c 1.2%,#96263a 16.9%,#96263a 21.4%,#96263a 38.1%,#96263a 41.6%,#90243e 58.5%,#8b2342 62.2%,#7f1f4a 78.9%,#7a1e4c 83.0%,#701b4b 99.6%,#701b4b 100.0%)"></div>
<div style="top:496px;height:5px;background:linear-gradient(90deg,#6a1a4a 0.0%,#6a1a4a 1.2%,#671a4a 16.9%,#581749 21.4%,#561648 38.1%,#531648 41.6%,#561648 58.5%,#511648 62.2%,#511648 78.9%,#531648 83.0%,#5e1849 99.6%,#5e1849 100.0%)"></div>
<div style="top:501px;height:5px;background:linear-gradient(90deg,#5a1749 0.0%,#5a1749 1.2%,#511648 16.9%,#3e1146 21.4%,#360f46 38.1%,#340e45 41.6%,#360f46 58.5%,#340e45 62.2%,#3c1046 78.9%,#461347 83.0%,#5a1749 99.6%,#5a1749 100.0%)"></div>
<div style="top:506px;height:5px;background:linear-gradient(90deg,#5a1749 0.0%,#5a1749 1.2%,#561648 16.9%,#4c1548 21.4%,#4f1548 38.1%,#561648 41.6%,#5a1749 58.5%,#5a1749 62.2%,#5e1849 78.9%,#5e1849 83.0%,#61184a 99.6%,#61184a 100.0%)"></div>
<div style="top:511px;height:4px;background:linear-gradient(90deg,#7f1f4a 0.0%,#7f1f4a 1.2%,#7f1f4a 16.9%,#7a1e4c 21.4%,#7f1f4a 38.1%,#822048 41.6%,#7f1f4a 58.5%,#822048 62.2%,#7f1f4a 78.9%,#7f1f4a 83.0%,#7c1e4c 99.6%,#7c1e4c 100.0%)"></div>
<div style="top:515px;height:5px;background:linear-gradient(90deg,#90243e 0.0%,#90243e 1.2%,#90243e 16.9%,#90243e 21.4%,#8e243f 38.1%,#8e243f 41.6%,#842146 58.5%,#822048 62.2%,#781d4c 78.9%,#701b4b 83.0%,#64194a 99.6%,#64194a 100.0%)"></div>
<div style="top:520px;height:5px;background:linear-gradient(90deg,#4f1548 0.0%,#4f1548 1.2%,#511648 16.9%,#5a1749 21.4%,#5f1849 38.1%,#63194a 41.6%,#6b1a4a 58.5%,#701b4b 62.2%,#761d4b 78.9%,#781d4c 83.0%,#761d4b 99.6%,#761d4b 100.0%)"></div>
<div style="top:525px;height:5px;background:linear-gradient(90deg,#61184a 0.0%,#61184a 1.2%,#5e1849 16.9%,#61184a 21.4%,#671a4a 38.1%,#701b4b 41.6%,#741c4b 58.5%,#842146 62.2%,#8e243f 78.9%,#91253d 83.0%,#96263a 99.6%,#96263a 100.0%)"></div>
<div style="top:530px;height:5px;background:linear-gradient(90deg,#91243e 0.0%,#91243e 1.2%,#93253c 16.9%,#822048 21.4%,#7f1f4a 38.1%,#7a1e4c 41.6%,#781d4c 58.5%,#701b4b 62.2%,#7a1e4c 78.9%,#7c1e4c 83.0%,#842146 99.6%,#842146 100.0%)"></div>
<div style="top:535px;height:5px;background:linear-gradient(90deg,#8e243f 0.0%,#8e243f 1.2%,#90243e 16.9%,#8e243f 21.4%,#8b2342 38.1%,#8b2342 41.6%,#8b2342 58.5%,#872144 62.2%,#872144 78.9%,#872144 83.0%,#8e243f 99.6%,#8e243f 100.0%)"></div>
<div style="top:540px;height:5px;background:linear-gradient(90deg,#8b2342 0.0%,#8b2342 1.2%,#90243e 16.9%,#992738 21.4%,#9d2935 38.1%,#9d2935 41.6%,#96263a 58.5%,#96263a 62.2%,#93253c 78.9%,#91253d 83.0%,#91253d 99.6%,#91253d 100.0%)"></div>
<div style="top:545px;height:5px;background:linear-gradient(90deg,#7f1f4a 0.0%,#7f1f4a 1.2%,#8c2341 16.9%,#9a2837 21.4%,#a32b31 38.1%,#ac2f2b 41.6%,#a32b31 58.5%,#a32b31 62.2%,#9f2a34 78.9%,#96263a 83.0%,#96263a 99.6%,#96263a 100.0%)"></div>
<div style="top:550px;height:5px;background:linear-gradient(90deg,#7c1e4c 0.0%,#7c1e4c 1.2%,#892243 16.9%,#96263a 21.4%,#9f2a34 38.1%,#9f2a34 41.6%,#9a2837 58.5%,#9c2836 62.2%,#992738 78.9%,#96263a 83.0%,#9a2837 99.6%,#9a2837 100.0%)"></div>
<div style="top:555px;height:5px;background:linear-gradient(90deg,#822048 0.0%,#822048 1.2%,#822048 16.9%,#781d4c 21.4%,#761d4b 38.1%,#6d1b4a 41.6%,#6b1a4a 58.5%,#671a4a 62.2%,#671a4a 78.9%,#671a4a 83.0%,#6b1a4a 99.6%,#6b1a4a 100.0%)"></div>
<div style="top:560px;height:5px;background:linear-gradient(90deg,#90243e 0.0%,#90243e 1.2%,#93253c 16.9%,#96263a 21.4%,#9a2837 38.1%,#992738 41.6%,#91243e 58.5%,#91253d 62.2%,#8b2342 78.9%,#7f1f4a 83.0%,#781d4c 99.6%,#781d4c 100.0%)"></div>
<div style="top:565px;height:5px;background:linear-gradient(90deg,#7f1f4a 0.0%,#7f1f4a 1.2%,#822048 16.9%,#7f1f4a 21.4%,#7f1f4a 38.1%,#7c1e4c 41.6%,#7a1e4c 58.5%,#701b4b 62.2%,#6b1a4a 78.9%,#5e1849 83.0%,#5a1749 99.6%,#5a1749 100.0%)"></div>
<div style="top:570px;height:5px;background:linear-gradient(90deg,#5a1749 0.0%,#5a1749 1.2%,#561648 16.9%,#4d1548 21.4%,#4d1548 38.1%,#4d1548 41.6%,#4f1548 58.5%,#4a1447 62.2%,#461347 78.9%,#421246 83.0%,#461347 99.6%,#461347 100.0%)"></div>
<div style="top:575px;height:5px;background:linear-gradient(90deg,#260b35 0.0%,#260b35 1.2%,#260b35 16.9%,#270b37 21.4%,#290c3a 38.1%,#2f0d43 41.6%,#340e45 58.5%,#380f46 62.2%,#3a1046 78.9%,#421246 83.0%,#441347 99.6%,#441347 100.0%)"></div>
<div style="top:580px;height:5px;background:linear-gradient(90deg,#4a1447 0.0%,#4a1447 1.2%,#4c1548 16.9%,#61184a 21.4%,#64194a 38.1%,#6a1a4a 41.6%,#6a1a4a 58.5%,#7a1e4c 62.2%,#7a1e4c 78.9%,#7a1e4c 83.0%,#781d4c 99.6%,#781d4c 100.0%)"></div>
<div style="top:585px;height:5px;background:linear-gradient(90deg,#63194a 0.0%,#63194a 1.2%,#63194a 16.9%,#63194a 21.4%,#64194a 38.1%,#671a4a 41.6%,#64194a 58.5%,#671a4a 62.2%,#64194a 78.9%,#64194a 83.0%,#61184a 99.6%,#61184a 100.0%)"></div>
<div style="top:590px;height:5px;background:linear-gradient(90deg,#3e1146 0.0%,#3e1146 1.2%,#401246 16.9%,#380f46 21.4%,#340e45 38.1%,#300d45 41.6%,#300d45 58.5%,#290c3a 62.2%,#240a33 78.9%,#220a30 83.0%,#220a30 99.6%,#220a30 100.0%)"></div>
<div style="top:595px;height:5px;background:linear-gradient(90deg,#741c4b 0.0%,#741c4b 1.2%,#741c4b 16.9%,#701b4b 21.4%,#701b4b 38.1%,#741c4b 41.6%,#741c4b 58.5%,#61184a 62.2%,#61184a 78.9%,#671a4a 83.0%,#671a4a 99.6%,#671a4a 100.0%)"></div>
<div style="top:600px;height:5px;background:linear-gradient(90deg,#5e1849 0.0%,#5e1849 1.2%,#5e1849 16.9%,#7c1e4c 41.6%,#7f1f4a 58.5%,#842146 83.0%,#842146 99.6%,#842146 100.0%)"></div>
<div style="top:605px;height:5px;background:linear-gradient(90deg,#220a30 0.0%,#220a30 1.2%,#220a30 16.9%,#401246 41.6%,#461347 58.5%,#5f1849 83.0%,#5f1849 99.6%,#5f1849 100.0%)"></div>
<div style="top:610px;height:5px;background:linear-gradient(90deg,#4a1447 0.0%,#4a1447 1.2%,#4a1447 16.9%,#63194a 41.6%,#671a4a 58.5%,#7a1e4c 83.0%,#7a1e4c 99.6%,#7a1e4c 100.0%)"></div>
<div style="top:615px;height:5px;background:linear-gradient(90deg,#9c2836 0.0%,#9c2836 1.2%,#9f2a34 16.9%,#992738 41.6%,#992738 58.5%,#90243e 83.0%,#90243e 99.6%,#90243e 100.0%)"></div>
<div style="top:620px;height:5px;background:linear-gradient(90deg,#812048 0.0%,#812048 1.2%,#7c1e4c 16.9%,#5f1849 41.6%,#581749 58.5%,#4a1447 83.0%,#4a1447 99.6%,#4a1447 100.0%)"></div>
<div style="top:625px;height:5px;background:linear-gradient(90deg,#6a1a4a 0.0%,#6a1a4a 1.2%,#671a4a 16.9%,#5e1849 41.6%,#581749 58.5%,#441347 83.0%,#441347 99.6%,#441347 100.0%)"></div>
<div style="top:630px;height:5px;background:linear-gradient(90deg,#93253c 0.0%,#93253c 1.2%,#93253c 16.9%,#7f1f4a 41.6%,#7a1e4c 58.5%,#701b4b 83.0%,#701b4b 99.6%,#701b4b 100.0%)"></div>
<div style="top:635px;height:5px;background:linear-gradient(90deg,#972639 0.0%,#972639 1.2%,#96263a 16.9%,#91253d 41.6%,#8c2341 58.5%,#7a1e4c 83.0%,#761d4b 99.6%,#761d4b 100.0%)"></div>
<div style="top:640px;height:4px;background:linear-gradient(90deg,#8b2342 0.0%,#8b2342 1.2%,#8b2342 16.9%,#8b2342 41.6%,#842146 58.5%,#781d4c 83.0%,#741c4b 99.6%,#741c4b 100.0%)"></div>
<div style="top:644px;height:5px;background:linear-gradient(90deg,#421246 0.0%,#421246 1.2%,#421246 16.9%,#401246 41.6%,#401246 58.5%,#481447 83.0%,#481447 99.6%,#481447 100.0%)"></div>
<div style="top:649px;height:5px;background:linear-gradient(90deg,#421246 0.0%,#421246 1.2%,#421246 16.9%,#481447 41.6%,#481447 58.5%,#61184a 83.0%,#61184a 99.6%,#61184a 100.0%)"></div>
<div style="top:654px;height:5px;background:linear-gradient(90deg,#7f1f4a 0.0%,#7f1f4a 1.2%,#7f1f4a 16.9%,#92253d 29.2%,#a32b31 41.6%,#a82d2e 58.5%,#b93623 83.0%,#b93623 99.6%,#b93623 100.0%)"></div>
<div style="top:659px;height:5px;background:linear-gradient(90deg,#7f1f4a 0.0%,#7f1f4a 1.2%,#7f1f4a 16.9%,#701b4b 41.6%,#701b4b 58.5%,#701b4b 83.0%,#701b4b 99.6%,#701b4b 100.0%)"></div>
<div style="top:664px;height:5px;background:linear-gradient(90deg,#220a30 0.0%,#220a30 1.2%,#220a30 16.9%,#1c0826 41.6%,#1c0826 58.5%,#1a0723 83.0%,#1a0723 99.6%,#1a0723 100.0%)"></div>
<div style="top:669px;height:5px;background:linear-gradient(90deg,#2f0d43 0.0%,#2f0d43 1.2%,#290c3a 16.9%,#270b37 41.6%,#270b37 58.5%,#290c3a 83.0%,#290c3a 99.6%,#290c3a 100.0%)"></div>
<div style="top:674px;height:5px;background:linear-gradient(90deg,#b83624 0.0%,#b83624 1.2%,#b83624 16.9%,#b63425 41.6%,#b63425 58.5%,#a82d2e 83.0%,#a82d2e 99.6%,#a82d2e 100.0%)"></div>
<div style="top:679px;height:5px;background:#992738"></div>
<div style="top:684px;height:5px;background:linear-gradient(90deg,#561648 0.0%,#561648 1.2%,#561648 16.9%,#5e1849 41.6%,#5e1849 58.5%,#6b1a4a 83.0%,#701b4b 99.6%,#701b4b 100.0%)"></div>
<div style="top:689px;height:5px;background:linear-gradient(90deg,#64194a 0.0%,#64194a 1.2%,#64194a 16.9%,#741c4b 41.6%,#711c4b 58.5%,#6d1b4a 83.0%,#6d1b4a 99.6%,#6d1b4a 100.0%)"></div>
<div style="top:694px;height:5px;background:linear-gradient(90deg,#7c1e4c 0.0%,#7c1e4c 1.2%,#7c1e4c 16.9%,#90243e 41.6%,#91253d 58.5%,#96263a 83.0%,#96263a 99.6%,#96263a 100.0%)"></div>
<div style="top:699px;height:5px;background:linear-gradient(90deg,#90243e 0.0%,#90243e 1.2%,#90243e 16.9%,#a02a33 29.2%,#b03029 41.6%,#b63425 58.5%,#c13f1e 83.0%,#c9461a 99.6%,#c9461a 100.0%)"></div>
<div style="top:704px;height:5px;background:linear-gradient(90deg,#d25217 0.0%,#d25217 1.2%,#d55715 16.9%,#dc6a16 41.6%,#de7418 58.5%,#e28c24 83.0%,#e3922a 99.6%,#e3922a 100.0%)"></div>
<div style="top:709px;height:5px;background:linear-gradient(90deg,#b13128 0.0%,#b13128 1.2%,#b13128 16.9%,#be3b20 41.6%,#c13f1e 58.5%,#c9461a 83.0%,#cc4b19 99.6%,#cc4b19 100.0%)"></div>
<div style="top:714px;height:5px;background:linear-gradient(90deg,#5e1849 0.0%,#5e1849 1.2%,#5e1849 16.9%,#6b1a4a 41.6%,#761d4b 58.5%,#7f1f4a 83.0%,#822048 99.6%,#822048 100.0%)"></div>
<div style="top:719px;height:5px;background:linear-gradient(90deg,#1c0826 0.0%,#1c0826 1.2%,#1c0826 16.9%,#290c3a 41.6%,#2c0c40 58.5%,#3a1046 83.0%,#3a1046 99.6%,#3a1046 100.0%)"></div>
<div style="top:724px;height:5px;background:linear-gradient(90deg,#421246 0.0%,#421246 1.2%,#421246 16.9%,#3a1046 41.6%,#3c1046 58.5%,#320e45 83.0%,#320e45 99.6%,#320e45 100.0%)"></div>
<div style="top:729px;height:5px;background:linear-gradient(90deg,#421246 0.0%,#421246 1.2%,#421246 16.9%,#401246 41.6%,#401246 58.5%,#401246 83.0%,#401246 99.6%,#401246 100.0%)"></div>
<div style="top:734px;height:5px;background:linear-gradient(90deg,#360f45 0.0%,#360f45 1.2%,#360f45 16.9%,#481447 41.6%,#481447 58.5%,#701b4b 83.0%,#741c4b 99.6%,#741c4b 100.0%)"></div>
<div style="top:739px;height:5px;background:linear-gradient(90deg,#441347 0.0%,#441347 1.2%,#441347 16.9%,#5a1749 41.6%,#5e1849 58.5%,#781d4c 83.0%,#7c1e4c 99.6%,#7c1e4c 100.0%)"></div>
<div style="top:744px;height:5px;background:linear-gradient(90deg,#5a1749 0.0%,#5a1749 1.2%,#5a1749 16.9%,#61184a 41.6%,#63194a 58.5%,#701b4b 83.0%,#741c4b 99.6%,#741c4b 100.0%)"></div>
<div style="top:749px;height:5px;background:linear-gradient(90deg,#992738 0.0%,#992738 1.2%,#992738 16.9%,#822048 41.6%,#7c1e4c 58.5%,#6d1b4a 83.0%,#6d1b4a 99.6%,#6d1b4a 100.0%)"></div>
<div style="top:754px;height:5px;background:linear-gradient(90deg,#892243 0.0%,#892243 1.2%,#892243 16.9%,#7f1f4a 41.6%,#7a1e4c 58.5%,#6b1a4a 83.0%,#6b1a4a 99.6%,#6b1a4a 100.0%)"></div>
<div style="top:759px;height:5px;background:linear-gradient(90deg,#61184a 0.0%,#61184a 1.2%,#61184a 16.9%,#581749 41.6%,#5a1749 58.5%,#4f1548 83.0%,#4f1548 99.6%,#4f1548 100.0%)"></div>
<div style="top:764px;height:4px;background:linear-gradient(90deg,#290c3a 0.0%,#290c3a 1.2%,#290c3a 16.9%,#1c0826 41.6%,#1c0826 58.5%,#16061c 83.0%,#16061c 99.6%,#16061c 100.0%)"></div>
<div style="top:768px;height:5px;background:linear-gradient(90deg,#320e45 0.0%,#320e45 1.2%,#320e45 16.9%,#270b37 41.6%,#270b37 58.5%,#1f092b 83.0%,#1f092b 99.6%,#1f092b 100.0%)"></div>
<div style="top:773px;height:5px;background:linear-gradient(90deg,#842146 0.0%,#842146 1.2%,#842146 16.9%,#741c4b 41.6%,#741c4b 58.5%,#5f1849 83.0%,#5f1849 99.6%,#5f1849 100.0%)"></div>
<div style="top:778px;height:5px;background:linear-gradient(90deg,#6a1a4a 0.0%,#6a1a4a 1.2%,#6a1a4a 16.9%,#561648 41.6%,#5f1849 58.5%,#4f1548 83.0%,#4f1548 99.6%,#4f1548 100.0%)"></div>
<div style="top:783px;height:5px;background:linear-gradient(90deg,#9a2837 0.0%,#9a2837 1.2%,#9a2837 16.9%,#8c2341 41.6%,#8c2341 58.5%,#872144 83.0%,#872144 99.6%,#872144 100.0%)"></div>
<div style="top:788px;height:5px;background:linear-gradient(90deg,#9a2837 0.0%,#9a2837 1.2%,#9a2837 16.9%,#8b2342 41.6%,#8b2342 58.5%,#7f1f4a 83.0%,#7f1f4a 99.6%,#7f1f4a 100.0%)"></div>
<div style="top:793px;height:5px;background:linear-gradient(90deg,#992738 0.0%,#992738 1.2%,#992738 16.9%,#7c1e4c 41.6%,#7c1e4c 58.5%,#671a4a 83.0%,#671a4a 99.6%,#671a4a 100.0%)"></div>
<div style="top:798px;height:5px;background:linear-gradient(90deg,#16061c 0.0%,#16061c 1.2%,#16061c 16.9%,#1c0826 41.6%,#1c0826 58.5%,#270b37 83.0%,#2a0c3d 99.6%,#2a0c3d 100.0%)"></div>
<div style="top:803px;height:5px;background:linear-gradient(90deg,#290c3a 0.0%,#290c3a 1.2%,#290c3a 16.9%,#2f0d43 41.6%,#300d45 58.5%,#320e45 83.0%,#360f46 99.6%,#360f46 100.0%)"></div>
<div style="top:808px;height:5px;background:linear-gradient(90deg,#7c1e4c 0.0%,#7c1e4c 1.2%,#7c1e4c 16.9%,#761d4b 41.6%,#701b4b 58.5%,#6b1a4a 83.0%,#64194a 99.6%,#64194a 100.0%)"></div>
<div style="top:813px;height:5px;background:linear-gradient(90deg,#9f2a34 0.0%,#9f2a34 1.2%,#9f2a34 16.9%,#ac2f2b 41.6%,#ae302a 58.5%,#a32b31 83.0%,#a32b31 99.6%,#a32b31 100.0%)"></div>
<div style="top:818px;height:5px;background:linear-gradient(90deg,#6b1a4a 0.0%,#6b1a4a 1.2%,#6b1a4a 16.9%,#4c1548 41.6%,#461347 58.5%,#3a1046 83.0%,#360f46 99.6%,#360f46 100.0%)"></div>
<div style="top:823px;height:5px;background:linear-gradient(90deg,#6a1a4a 0.0%,#6a1a4a 1.2%,#671a4a 16.9%,#4d1548 41.6%,#4a1447 58.5%,#3e1146 83.0%,#3e1146 99.6%,#3e1146 100.0%)"></div>
<div style="top:828px;height:5px;background:linear-gradient(90deg,#6b1a4a 0.0%,#6b1a4a 1.2%,#671a4a 16.9%,#5a1749 41.6%,#531648 58.5%,#561648 83.0%,#5a1749 99.6%,#5a1749 100.0%)"></div>
<div style="top:833px;height:5px;background:linear-gradient(90deg,#6d1b4a 0.0%,#6d1b4a 1.2%,#6b1a4a 16.9%,#5a1749 41.6%,#531648 58.5%,#4f1548 83.0%,#4a1447 99.6%,#4a1447 100.0%)"></div>
<div style="top:838px;height:5px;background:linear-gradient(90deg,#260b35 0.0%,#260b35 1.2%,#260b35 16.9%,#2a0c3d 41.6%,#2a0c3d 58.5%,#2c0c40 83.0%,#2c0c40 99.6%,#2c0c40 100.0%)"></div>
<div style="top:843px;height:5px;background:linear-gradient(90deg,#4f1548 0.0%,#4f1548 1.2%,#4f1548 16.9%,#511648 41.6%,#511648 58.5%,#561648 83.0%,#561648 99.6%,#561648 100.0%)"></div>
<div style="top:848px;height:5px;background:linear-gradient(90deg,#7a1e4c 0.0%,#7a1e4c 1.2%,#7a1e4c 16.9%,#6a1a4a 41.6%,#6a1a4a 58.5%,#61184a 83.0%,#5e1849 99.6%,#5e1849 100.0%)"></div>
<div style="top:853px;height:5px;background:linear-gradient(90deg,#b63425 0.0%,#b63425 1.2%,#b63425 16.9%,#b63425 41.6%,#b63425 58.5%,#a52c30 83.0%,#a52c30 99.6%,#a52c30 100.0%)"></div>
<div style="top:858px;height:5px;background:linear-gradient(90deg,#bc3922 0.0%,#bc3922 1.2%,#bc3922 16.9%,#b73524 41.6%,#b73524 58.5%,#a52c30 83.0%,#a52c30 99.6%,#a52c30 100.0%)"></div>
<div style="top:863px;height:5px;background:linear-gradient(90deg,#b03029 0.0%,#b03029 1.2%,#b03029 16.9%,#9e2935 29.2%,#8b2342 41.6%,#842146 58.5%,#63194a 83.0%,#5e1849 99.6%,#5e1849 100.0%)"></div>
<div style="top:868px;height:5px;background:linear-gradient(90deg,#781d4c 0.0%,#781d4c 1.2%,#781d4c 16.9%,#64194a 41.6%,#61184a 58.5%,#4f1548 83.0%,#4a1447 99.6%,#4a1447 100.0%)"></div>
<div style="top:873px;height:5px;background:linear-gradient(90deg,#761d4b 0.0%,#761d4b 1.2%,#761d4b 16.9%,#90243e 41.6%,#91253d 58.5%,#9f2a34 83.0%,#9f2a34 99.6%,#9f2a34 100.0%)"></div>
<div style="top:878px;height:5px;background:linear-gradient(90deg,#761d4b 0.0%,#761d4b 1.2%,#761d4b 16.9%,#91253d 41.6%,#93253c 58.5%,#a82d2e 83.0%,#a82d2e 99.6%,#a82d2e 100.0%)"></div>
<div style="top:883px;height:5px;background:linear-gradient(90deg,#3a1046 0.0%,#3a1046 1.2%,#3a1046 16.9%,#561648 41.6%,#5a1749 58.5%,#7a1e4c 83.0%,#7f1f4a 99.6%,#7f1f4a 100.0%)"></div>
<div style="top:888px;height:5px;background:linear-gradient(90deg,#7a1e4c 0.0%,#7a1e4c 1.2%,#7a1e4c 16.9%,#7f1f4a 41.6%,#7f1f4a 58.5%,#822048 83.0%,#842146 99.6%,#842146 100.0%)"></div>
<div style="top:893px;height:5px;background:linear-gradient(90deg,#ae302a 0.0%,#ae302a 1.2%,#ae302a 16.9%,#b73524 41.6%,#b93623 58.5%,#b73524 83.0%,#b73524 99.6%,#b73524 100.0%)"></div>
<div style="top:898px;height:4px;background:linear-gradient(90deg,#b13128 0.0%,#b13128 1.2%,#b13128 16.9%,#a82d2e 41.6%,#ac2f2b 58.5%,#9f2a34 83.0%,#9f2a34 99.6%,#9f2a34 100.0%)"></div>
<div style="top:902px;height:5px;background:linear-gradient(90deg,#8b2342 0.0%,#8b2342 1.2%,#8b2342 16.9%,#872144 41.6%,#872144 58.5%,#822048 83.0%,#822048 99.6%,#822048 100.0%)"></div>
<div style="top:907px;height:5px;background:linear-gradient(90deg,#d95c14 0.0%,#d95c14 1.2%,#d95c14 16.9%,#c9461a 41.6%,#cc4b19 58.5%,#c13f1e 70.8%,#b63425 83.0%,#b03029 99.6%,#b03029 100.0%)"></div>
<div style="top:912px;height:5px;background:linear-gradient(90deg,#e3922a 0.0%,#e3922a 1.2%,#e3922a 16.9%,#e07e1a 29.2%,#dc6a16 41.6%,#da6315 58.5%,#d45516 70.8%,#cb491a 83.0%,#c3401d 99.6%,#c3401d 100.0%)"></div>
<div style="top:917px;height:5px;background:linear-gradient(90deg,#e3922a 0.0%,#e3922a 1.2%,#e4962c 16.9%,#e1851f 29.2%,#de7418 41.6%,#dc6a16 58.5%,#d65815 70.8%,#cc4b19 83.0%,#c9461a 99.6%,#c9461a 100.0%)"></div>
<div style="top:922px;height:5px;background:linear-gradient(90deg,#c13f1e 0.0%,#c13f1e 1.2%,#c13f1e 16.9%,#b03029 41.6%,#b63425 58.5%,#a32b31 70.8%,#8e243f 83.0%,#8e243f 99.6%,#8e243f 100.0%)"></div>
<div style="top:927px;height:5px;background:linear-gradient(90deg,#a32b31 0.0%,#a32b31 1.2%,#a32b31 16.9%,#96263a 41.6%,#96263a 58.5%,#842146 83.0%,#842146 99.6%,#842146 100.0%)"></div>
<div style="top:932px;height:5px;background:linear-gradient(90deg,#842146 0.0%,#842146 1.2%,#842146 16.9%,#892243 41.6%,#892243 58.5%,#91253d 83.0%,#91253d 99.6%,#91253d 100.0%)"></div>
<div style="top:937px;height:5px;background:linear-gradient(90deg,#61184a 0.0%,#61184a 1.2%,#61184a 16.9%,#701b4b 41.6%,#741c4b 58.5%,#7a1e4c 83.0%,#7a1e4c 99.6%,#7a1e4c 100.0%)"></div>
<div style="top:942px;height:5px;background:linear-gradient(90deg,#872144 0.0%,#872144 1.2%,#872144 16.9%,#872144 41.6%,#872144 58.5%,#90243e 83.0%,#90243e 99.6%,#90243e 100.0%)"></div>
<div style="top:947px;height:5px;background:linear-gradient(90deg,#5a1749 0.0%,#5a1749 1.2%,#5a1749 16.9%,#64194a 41.6%,#6b1a4a 58.5%,#7a1e4c 83.0%,#7a1e4c 99.6%,#7a1e4c 100.0%)"></div>
<div style="top:952px;height:5px;background:linear-gradient(90deg,#280b38 0.0%,#280b38 1.2%,#280b38 16.9%,#360f46 41.6%,#360f46 58.5%,#441347 83.0%,#441347 99.6%,#441347 100.0%)"></div>
<div style="top:957px;height:5px;background:linear-gradient(90deg,#be3b20 0.0%,#be3b20 1.2%,#be3b20 16.9%,#c7441b 25.1%,#d05018 33.4%,#d95c14 41.6%,#d95c14 58.5%,#dc6a16 83.0%,#dc6a16 99.6%,#dc6a16 100.0%)"></div>
<div style="top:962px;height:5px;background:linear-gradient(90deg,#cc4b19 0.0%,#cc4b19 1.2%,#ce4e18 16.9%,#da6315 41.6%,#dc6a16 58.5%,#de7418 83.0%,#df7719 99.6%,#df7719 100.0%)"></div>
<div style="top:967px;height:5px;background:linear-gradient(90deg,#c13f1e 0.0%,#c13f1e 1.2%,#c13f1e 16.9%,#cc4b19 41.6%,#ce4e18 58.5%,#cc4b19 83.0%,#cc4b19 99.6%,#cc4b19 100.0%)"></div>
<div style="top:972px;height:5px;background:linear-gradient(90deg,#992738 0.0%,#992738 1.2%,#992738 16.9%,#b13128 41.6%,#b63425 58.5%,#bf3d1f 83.0%,#bf3d1f 99.6%,#bf3d1f 100.0%)"></div>
<div style="top:977px;height:5px;background:linear-gradient(90deg,#671a4a 0.0%,#671a4a 1.2%,#671a4a 16.9%,#61184a 41.6%,#61184a 58.5%,#561648 83.0%,#561648 99.6%,#561648 100.0%)"></div>
<div style="top:982px;height:5px;background:linear-gradient(90deg,#421246 0.0%,#421246 1.2%,#421246 16.9%,#5a1749 41.6%,#5e1849 58.5%,#6d1b4a 83.0%,#6d1b4a 99.6%,#6d1b4a 100.0%)"></div>
<div style="top:987px;height:5px;background:linear-gradient(90deg,#9c2836 0.0%,#9c2836 1.2%,#9f2a34 16.9%,#b93623 41.6%,#bb3822 58.5%,#cb491a 83.0%,#cb491a 99.6%,#cb491a 100.0%)"></div>
<div style="top:992px;height:5px;background:linear-gradient(90deg,#872144 0.0%,#872144 1.2%,#872144 16.9%,#91253d 41.6%,#91253d 58.5%,#96263a 83.0%,#96263a 99.6%,#96263a 100.0%)"></div>
<div style="top:997px;height:5px;background:linear-gradient(90deg,#320e45 0.0%,#320e45 1.2%,#320e45 16.9%,#300d45 41.6%,#300d45 58.5%,#2a0c3d 83.0%,#2a0c3d 99.6%,#2a0c3d 100.0%)"></div>
<div style="top:1002px;height:5px;background:#000000"></div>
<div style="top:1007px;height:5px;background:linear-gradient(90deg,#561648 0.0%,#561648 1.2%,#561648 16.9%,#3c1046 41.6%,#3c1046 58.5%,#2f0d43 83.0%,#2a0c3d 99.6%,#2a0c3d 100.0%)"></div>
<div style="top:1012px;height:5px;background:linear-gradient(90deg,#64194a 0.0%,#64194a 1.2%,#64194a 16.9%,#581749 41.6%,#581749 58.5%,#511648 83.0%,#511648 99.6%,#511648 100.0%)"></div>
<div style="top:1017px;height:5px;background:linear-gradient(90deg,#1c0826 0.0%,#1c0826 1.2%,#1c0826 16.9%,#190721 41.6%,#190721 58.5%,#190721 83.0%,#190721 99.6%,#190721 100.0%)"></div>
<div style="top:1022px;height:4px;background:linear-gradient(90deg,#290c3a 0.0%,#290c3a 1.2%,#290c3a 16.9%,#220a30 41.6%,#220a30 58.5%,#1f092b 83.0%,#1f092b 99.6%,#1f092b 100.0%)"></div>
<div style="top:1026px;height:5px;background:linear-gradient(90deg,#7e1f4b 0.0%,#7e1f4b 1.2%,#7e1f4b 16.9%,#91253d 41.6%,#91253d 58.5%,#a42c30 70.8%,#b63425 83.0%,#b63425 99.6%,#b63425 100.0%)"></div>
<div style="top:1031px;height:5px;background:linear-gradient(90deg,#421246 0.0%,#421246 1.2%,#421246 16.9%,#4a1447 41.6%,#4a1447 58.5%,#561648 83.0%,#561648 99.6%,#561648 100.0%)"></div>
<div style="top:1036px;height:5px;background:linear-gradient(90deg,#ba3723 0.0%,#ba3723 1.2%,#ba3723 16.9%,#bc3922 41.6%,#bc3922 58.5%,#b83624 83.0%,#b83624 99.6%,#b83624 100.0%)"></div>
<div style="top:1041px;height:5px;background:linear-gradient(90deg,#b13128 0.0%,#b13128 1.2%,#b13128 16.9%,#b03029 41.6%,#b03029 58.5%,#a82d2e 83.0%,#a82d2e 99.6%,#a82d2e 100.0%)"></div>
<div style="top:1046px;height:5px;background:linear-gradient(90deg,#822048 0.0%,#822048 1.2%,#822048 16.9%,#7a1e4c 41.6%,#7a1e4c 58.5%,#781d4c 83.0%,#781d4c 99.6%,#781d4c 100.0%)"></div>
<div style="top:1051px;height:5px;background:linear-gradient(90deg,#360f46 0.0%,#360f46 1.2%,#360f46 16.9%,#320e45 41.6%,#320e45 58.5%,#2c0c40 83.0%,#2c0c40 99.6%,#2c0c40 100.0%)"></div>
<div style="top:1056px;height:5px;background:linear-gradient(90deg,#360f46 0.0%,#360f46 1.2%,#360f46 16.9%,#320e45 41.6%,#320e45 58.5%,#290c3a 83.0%,#290c3a 99.6%,#290c3a 100.0%)"></div>
<div style="top:1061px;height:5px;background:linear-gradient(90deg,#2f0d43 0.0%,#2f0d43 1.2%,#2f0d43 16.9%,#300d45 41.6%,#300d45 58.5%,#2f0d43 83.0%,#2f0d43 99.6%,#2f0d43 100.0%)"></div>
<div style="top:1066px;height:5px;background:linear-gradient(90deg,#7f1f4a 0.0%,#7f1f4a 1.2%,#7f1f4a 16.9%,#96263a 41.6%,#96263a 58.5%,#b13128 83.0%,#b13128 99.6%,#b13128 100.0%)"></div>
<div style="top:1071px;height:5px;background:linear-gradient(90deg,#7f1f4a 0.0%,#7f1f4a 1.2%,#7f1f4a 16.9%,#781d4c 41.6%,#781d4c 58.5%,#7c1e4c 83.0%,#7c1e4c 99.6%,#7c1e4c 100.0%)"></div>
<div style="top:1076px;height:5px;background:#220a30"></div>
<div style="top:1081px;height:5px;background:linear-gradient(90deg,#2a0c3d 0.0%,#2a0c3d 1.2%,#2a0c3d 16.9%,#20092d 41.6%,#20092d 58.5%,#130517 83.0%,#130517 99.6%,#130517 100.0%)"></div>
<div style="top:1086px;height:5px;background:linear-gradient(90deg,#e28822 0.0%,#e28822 1.2%,#e28822 16.9%,#de7418 41.6%,#de7418 58.5%,#da6315 83.0%,#da6315 99.6%,#da6315 100.0%)"></div>
<div style="top:1091px;height:5px;background:linear-gradient(90deg,#e6c87a 0.0%,#e6c87a 1.2%,#e6c87a 16.9%,#e6c87a 41.6%,#e6c87a 58.5%,#e7cc84 83.0%,#e7cc84 99.6%,#e7cc84 100.0%)"></div>
<div style="top:1096px;height:5px;background:linear-gradient(90deg,#96263a 0.0%,#96263a 1.2%,#96263a 16.9%,#a32b31 41.6%,#a32b31 58.5%,#b93623 83.0%,#b93623 99.6%,#b93623 100.0%)"></div>
<div style="top:1101px;height:5px;background:linear-gradient(90deg,#64194a 0.0%,#64194a 1.2%,#64194a 16.9%,#5e1849 41.6%,#5e1849 58.5%,#561648 83.0%,#561648 99.6%,#561648 100.0%)"></div>
<div style="top:1106px;height:5px;background:linear-gradient(90deg,#d05018 0.0%,#d05018 1.2%,#d05018 16.9%,#c6431c 29.2%,#bc3922 41.6%,#bc3922 58.5%,#a82d2e 83.0%,#9f2a34 99.6%,#9f2a34 100.0%)"></div>
<div style="top:1111px;height:5px;background:linear-gradient(90deg,#cc4b19 0.0%,#cc4b19 1.2%,#cc4b19 16.9%,#c23f1e 29.2%,#b73524 41.6%,#b73524 58.5%,#b13128 83.0%,#b13128 99.6%,#b13128 100.0%)"></div>
<div style="top:1116px;height:5px;background:linear-gradient(90deg,#741c4b 0.0%,#741c4b 1.2%,#741c4b 16.9%,#7a1e4c 41.6%,#7a1e4c 58.5%,#7c1e4c 83.0%,#7c1e4c 99.6%,#7c1e4c 100.0%)"></div>
<div style="top:1121px;height:5px;background:linear-gradient(90deg,#e7cc84 0.0%,#e7cc84 1.2%,#e7cc84 16.9%,#e5c370 41.6%,#e5c370 58.5%,#e4b85a 83.0%,#e4b85a 99.6%,#e4b85a 100.0%)"></div>
<div style="top:1126px;height:5px;background:linear-gradient(90deg,#e4ac47 0.0%,#e4ac47 1.2%,#e4ac47 16.9%,#e5a034 41.6%,#e5a034 58.5%,#e4992f 83.0%,#e4992f 99.6%,#e4992f 100.0%)"></div>
<div style="top:1131px;height:5px;background:linear-gradient(90deg,#6a1a4a 0.0%,#6a1a4a 1.2%,#6a1a4a 16.9%,#7a1e4c 41.6%,#7a1e4c 58.5%,#8e243f 83.0%,#8e243f 99.6%,#8e243f 100.0%)"></div>
<div style="top:1136px;height:5px;background:linear-gradient(90deg,#290c3a 0.0%,#290c3a 1.2%,#290c3a 16.9%,#220a30 41.6%,#220a30 58.5%,#1f092b 83.0%,#1f092b 99.6%,#1f092b 100.0%)"></div>
<div style="top:1141px;height:5px;background:linear-gradient(90deg,#340e45 0.0%,#340e45 1.2%,#340e45 16.9%,#320e45 41.6%,#320e45 58.5%,#320e45 83.0%,#320e45 99.6%,#320e45 100.0%)"></div>
<div style="top:1146px;height:5px;background:linear-gradient(90deg,#7a1e4c 0.0%,#7a1e4c 1.2%,#7a1e4c 16.9%,#761d4b 41.6%,#761d4b 58.5%,#781d4c 83.0%,#781d4c 99.6%,#781d4c 100.0%)"></div>
<div style="top:1151px;height:5px;background:linear-gradient(90deg,#cc4b19 0.0%,#cc4b19 1.2%,#cc4b19 16.9%,#be3b20 41.6%,#be3b20 58.5%,#ac2f2b 83.0%,#ac2f2b 99.6%,#ac2f2b 100.0%)"></div>
<div style="top:1156px;height:4px;background:linear-gradient(90deg,#b63425 0.0%,#b63425 1.2%,#b63425 16.9%,#a82d2e 41.6%,#a82d2e 58.5%,#9c2836 83.0%,#9c2836 99.6%,#9c2836 100.0%)"></div>
<div style="top:1160px;height:5px;background:#100412"></div>
<div style="top:1165px;height:5px;background:linear-gradient(90deg,#100412 0.0%,#100412 1.2%,#100412 16.9%,#100412 41.6%,#100412 58.5%,#120515 83.0%,#120515 99.6%,#120515 100.0%)"></div>
<div style="top:1170px;height:5px;background:linear-gradient(90deg,#100412 0.0%,#100412 1.2%,#100412 16.9%,#16061c 41.6%,#16061c 58.5%,#190721 83.0%,#190721 99.6%,#190721 100.0%)"></div>
<div style="top:1175px;height:5px;background:linear-gradient(90deg,#7a1e4c 0.0%,#7a1e4c 1.2%,#7a1e4c 16.9%,#8b2342 41.6%,#8b2342 58.5%,#96263a 83.0%,#96263a 99.6%,#96263a 100.0%)"></div>
<div style="top:1180px;height:5px;background:linear-gradient(90deg,#bc3922 0.0%,#bc3922 1.2%,#bc3922 16.9%,#c13f1e 41.6%,#c13f1e 58.5%,#c9461a 83.0%,#c9461a 99.6%,#c9461a 100.0%)"></div>
<div style="top:1185px;height:5px;background:linear-gradient(90deg,#290c3a 0.0%,#290c3a 1.2%,#290c3a 16.9%,#2b0c3e 41.6%,#2b0c3e 58.5%,#2a0c3d 83.0%,#2a0c3d 99.6%,#2a0c3d 100.0%)"></div>
<div style="top:1190px;height:5px;background:linear-gradient(90deg,#2a0c3d 0.0%,#2a0c3d 1.2%,#2a0c3d 16.9%,#2b0c3e 41.6%,#2b0c3e 58.5%,#290c3a 83.0%,#290c3a 99.6%,#290c3a 100.0%)"></div>
<div style="top:1195px;height:5px;background:linear-gradient(90deg,#300d45 0.0%,#300d45 1.2%,#300d45 16.9%,#320e45 41.6%,#320e45 58.5%,#3c1046 83.0%,#3c1046 99.6%,#3c1046 100.0%)"></div>
<div style="top:1200px;height:5px;background:linear-gradient(90deg,#5a1749 0.0%,#5a1749 1.2%,#5a1749 16.9%,#5e1849 41.6%,#5e1849 58.5%,#671a4a 83.0%,#671a4a 99.6%,#671a4a 100.0%)"></div>
<div style="top:1205px;height:5px;background:linear-gradient(90deg,#741c4b 0.0%,#741c4b 1.2%,#741c4b 16.9%,#781d4c 41.6%,#781d4c 58.5%,#781d4c 83.0%,#781d4c 99.6%,#781d4c 100.0%)"></div>
<div style="top:1210px;height:5px;background:linear-gradient(90deg,#741c4b 0.0%,#741c4b 1.2%,#741c4b 16.9%,#781d4c 41.6%,#781d4c 58.5%,#781d4c 83.0%,#781d4c 99.6%,#781d4c 100.0%)"></div>
<div style="top:1215px;height:5px;background:linear-gradient(90deg,#741c4b 0.0%,#741c4b 1.2%,#741c4b 16.9%,#781d4c 41.6%,#781d4c 58.5%,#781d4c 83.0%,#781d4c 99.6%,#781d4c 100.0%)"></div>
<div style="top:1220px;height:5px;background:linear-gradient(90deg,#741c4b 0.0%,#741c4b 1.2%,#741c4b 16.9%,#781d4c 41.6%,#781d4c 58.5%,#781d4c 83.0%,#781d4c 99.6%,#781d4c 100.0%)"></div>
<div style="top:1225px;height:5px;background:linear-gradient(90deg,#ead9a3 0.0%,#ead9a3 1.2%,#ead9a3 16.9%,#ebdca9 41.6%,#ebdca9 58.5%,#ebdca9 83.0%,#ebdca9 99.6%,#ebdca9 100.0%)"></div>
<div style="top:1230px;height:5px;background:linear-gradient(90deg,#f4f2ee 0.0%,#f4f2ee 1.2%,#f4f2ee 16.9%,#f1eddc 41.6%,#f1eddc 58.5%,#f0e9cf 83.0%,#f0e9cf 99.6%,#f0e9cf 100.0%)"></div>
<div style="top:1235px;height:5px;background:linear-gradient(90deg,#e4b352 0.0%,#e4b352 1.2%,#e4b352 16.9%,#e49d31 41.6%,#e49d31 58.5%,#e07e1a 83.0%,#e07e1a 99.6%,#e07e1a 100.0%)"></div>
<div style="top:1240px;height:5px;background:linear-gradient(90deg,#bf3d1f 0.0%,#bf3d1f 1.2%,#bf3d1f 16.9%,#ac2f2b 41.6%,#ac2f2b 58.5%,#982739 70.8%,#822048 83.0%,#822048 99.6%,#822048 100.0%)"></div>
<div style="top:1245px;height:5px;background:linear-gradient(90deg,#9f2a34 0.0%,#9f2a34 1.2%,#9f2a34 16.9%,#a32b31 41.6%,#a32b31 58.5%,#9f2a34 83.0%,#9f2a34 99.6%,#9f2a34 100.0%)"></div>
<div style="top:1250px;height:5px;background:linear-gradient(90deg,#260b35 0.0%,#260b35 1.2%,#260b35 16.9%,#2b0c3e 41.6%,#2b0c3e 58.5%,#320e45 83.0%,#320e45 99.6%,#320e45 100.0%)"></div>
<div style="top:1255px;height:5px;background:linear-gradient(90deg,#320e45 0.0%,#320e45 1.2%,#320e45 16.9%,#2e0d42 41.6%,#2e0d42 58.5%,#2a0c3d 83.0%,#2a0c3d 99.6%,#2a0c3d 100.0%)"></div>
<div style="top:1260px;height:5px;background:linear-gradient(90deg,#320e45 0.0%,#320e45 1.2%,#320e45 16.9%,#300d45 41.6%,#300d45 58.5%,#290c3a 83.0%,#290c3a 99.6%,#290c3a 100.0%)"></div>
<div style="top:1265px;height:5px;background:#5a1749"></div>
<div style="top:1270px;height:5px;background:linear-gradient(90deg,#4a1447 0.0%,#4a1447 1.2%,#4a1447 16.9%,#4d1548 41.6%,#4d1548 58.5%,#581749 83.0%,#581749 99.6%,#581749 100.0%)"></div>
<div style="top:1275px;height:5px;background:linear-gradient(90deg,#100412 0.0%,#100412 1.2%,#100412 16.9%,#120515 41.6%,#120515 58.5%,#100412 83.0%,#100412 99.6%,#100412 100.0%)"></div>
</div>
<div class="tk" style="left:355px;top:1421px;width:1px;height:19px"></div>
<div class="tk" style="left:400px;top:1421px;width:1px;height:19px"></div>
<div class="vg" style="left:445px"></div>
<div class="tk" style="left:446px;top:1405px;width:1px;height:35px"></div>
<div class="xl" style="left:296px">2.195</div>
<div class="tk" style="left:491px;top:1421px;width:1px;height:19px"></div>
<div class="tk" style="left:537px;top:1421px;width:1px;height:19px"></div>
<div class="tk" style="left:582px;top:1421px;width:1px;height:19px"></div>
<div class="tk" style="left:628px;top:1421px;width:1px;height:19px"></div>
<div class="vg" style="left:672px"></div>
<div class="tk" style="left:673px;top:1405px;width:1px;height:35px"></div>
<div class="xl" style="left:523px">2.2</div>
<div class="tk" style="left:719px;top:1421px;width:1px;height:19px"></div>
<div class="tk" style="left:764px;top:1421px;width:1px;height:19px"></div>
<div class="tk" style="left:810px;top:1421px;width:1px;height:19px"></div>
<div class="tk" style="left:855px;top:1421px;width:1px;height:19px"></div>
<div class="vg" style="left:899px"></div>
<div class="tk" style="left:900px;top:1405px;width:1px;height:35px"></div>
<div class="xl" style="left:750px">2.205</div>
<div class="tk" style="left:946px;top:1421px;width:1px;height:19px"></div>
<div class="tk" style="left:991px;top:1421px;width:1px;height:19px"></div>
<div class="tk" style="left:1037px;top:1421px;width:1px;height:19px"></div>
<div class="tk" style="left:1082px;top:1421px;width:1px;height:19px"></div>
<div class="vg" style="left:1127px"></div>
<div class="tk" style="left:1128px;top:1405px;width:1px;height:35px"></div>
<div class="xl" style="left:978px">2.21</div>
<div class="tk" style="left:1173px;top:1421px;width:1px;height:19px"></div>
<div class="tk" style="left:1219px;top:1421px;width:1px;height:19px"></div>
<div class="tk" style="left:1264px;top:1421px;width:1px;height:19px"></div>
<div class="tk" style="left:1310px;top:1421px;width:1px;height:19px"></div>
<div class="vg" style="left:1354px"></div>
<div class="tk" style="left:1355px;top:1405px;width:1px;height:35px"></div>
<div class="xl" style="left:1205px">2.215</div>
<div class="tk" style="left:1401px;top:1421px;width:1px;height:19px"></div>
<div class="tk" style="left:1446px;top:1421px;width:1px;height:19px"></div>
<div class="tk" style="left:1491px;top:1421px;width:1px;height:19px"></div>
<div class="tk" style="left:1537px;top:1421px;width:1px;height:19px"></div>
<div class="vg" style="left:1581px"></div>
<div class="tk" style="left:1582px;top:1405px;width:1px;height:35px"></div>
<div class="xl" style="left:1432px">2.22</div>
<div class="tk" style="left:1628px;top:1421px;width:1px;height:19px"></div>
<div class="tk" style="left:1673px;top:1421px;width:1px;height:19px"></div>
<div class="tk" style="left:1719px;top:1421px;width:1px;height:19px"></div>
<div class="tk" style="left:1764px;top:1421px;width:1px;height:19px"></div>
<div class="vg" style="left:1809px"></div>
<div class="tk" style="left:1810px;top:1405px;width:1px;height:35px"></div>
<div class="xl" style="left:1660px">2.225</div>
<div class="tk" style="left:1855px;top:1421px;width:1px;height:19px"></div>
<div class="tk" style="left:1901px;top:1421px;width:1px;height:19px"></div>
<div class="tk" style="left:1946px;top:1421px;width:1px;height:19px"></div>
<div class="tk" style="left:1992px;top:1421px;width:1px;height:19px"></div>
<div class="vg" style="left:2036px"></div>
<div class="tk" style="left:2037px;top:1405px;width:1px;height:35px"></div>
<div class="xl" style="left:1887px">2.23</div>
<div class="tk" style="left:2082px;top:1421px;width:1px;height:19px"></div>
<div class="tk" style="left:2128px;top:1421px;width:1px;height:19px"></div>
<div class="tk" style="left:2173px;top:1421px;width:1px;height:19px"></div>
<div class="hg" style="top:393px"></div>
<div class="tk" style="left:311px;top:394px;width:62px;height:1px"></div>
<div class="hg" style="top:430px"></div>
<div class="tk" style="left:311px;top:431px;width:31px;height:1px"></div>
<div class="hg" style="top:471px"></div>
<div class="tk" style="left:311px;top:472px;width:31px;height:1px"></div>
<div class="hg" style="top:517px"></div>
<div class="tk" style="left:311px;top:518px;width:31px;height:1px"></div>
<div class="hg" style="top:571px"></div>
<div class="tk" style="left:311px;top:572px;width:31px;height:1px"></div>
<div class="hg" style="top:635px"></div>
<div class="tk" style="left:311px;top:636px;width:31px;height:1px"></div>
<div class="hg" style="top:713px"></div>
<div class="tk" style="left:311px;top:714px;width:31px;height:1px"></div>
<div class="hg" style="top:813px"></div>
<div class="tk" style="left:311px;top:814px;width:31px;height:1px"></div>
<div class="hg" style="top:955px"></div>
<div class="tk" style="left:311px;top:956px;width:31px;height:1px"></div>
<div class="hg" style="top:1197px"></div>
<div class="tk" style="left:311px;top:1198px;width:62px;height:1px"></div>
<div class="hg" style="top:1233px"></div>
<div class="tk" style="left:311px;top:1234px;width:31px;height:1px"></div>
<div class="hg" style="top:1274px"></div>
<div class="tk" style="left:311px;top:1275px;width:31px;height:1px"></div>
<div class="hg" style="top:1321px"></div>
<div class="tk" style="left:311px;top:1322px;width:31px;height:1px"></div>
<div class="hg" style="top:1375px"></div>
<div class="tk" style="left:311px;top:1376px;width:31px;height:1px"></div>
<div class="yl" style="top:371px">10<sup>3</sup></div>
<div class="yl" style="top:549px">6<svg class="x" width="27" height="27" viewBox="0 0 27 27"><path d="M1 1L26 26M26 1L1 26" stroke="#f0e6d0" stroke-width="3.2" fill="none"/></svg>10<sup>2</sup></div>
<div class="yl" style="top:613px">5<svg class="x" width="27" height="27" viewBox="0 0 27 27"><path d="M1 1L26 26M26 1L1 26" stroke="#f0e6d0" stroke-width="3.2" fill="none"/></svg>10<sup>2</sup></div>
<div class="yl" style="top:691px">4<svg class="x" width="27" height="27" viewBox="0 0 27 27"><path d="M1 1L26 26M26 1L1 26" stroke="#f0e6d0" stroke-width="3.2" fill="none"/></svg>10<sup>2</sup></div>
<div class="yl" style="top:791px">3<svg class="x" width="27" height="27" viewBox="0 0 27 27"><path d="M1 1L26 26M26 1L1 26" stroke="#f0e6d0" stroke-width="3.2" fill="none"/></svg>10<sup>2</sup></div>
<div class="yl" style="top:933px">2<svg class="x" width="27" height="27" viewBox="0 0 27 27"><path d="M1 1L26 26M26 1L1 26" stroke="#f0e6d0" stroke-width="3.2" fill="none"/></svg>10<sup>2</sup></div>
<div class="yl" style="top:1175px">10<sup>2</sup></div>
<div class="yl" style="top:1294px">70</div>
<div class="yl" style="top:1348px">60</div>
<div class="tk" style="left:310px;top:160px;width:1px;height:1281px"></div>
<div class="tk" style="left:310px;top:1440px;width:1864px;height:1px"></div>

<div style="position:absolute;left:2186px;top:160px;width:117px;height:1280px;background:linear-gradient(180deg,#f4f2ee 0.00%,#f2eee1 1.56%,#f0ead4 3.12%,#efe6c7 4.69%,#ede2ba 6.25%,#ebddae 7.81%,#ead8a1 9.38%,#e9d395 10.94%,#e7ce88 12.50%,#e6c97d 14.06%,#e6c675 15.62%,#e5c26e 17.19%,#e5be67 18.75%,#e4bb60 20.31%,#e4b758 21.88%,#e4b251 23.44%,#e4ad49 25.00%,#e5a841 26.56%,#e5a43a 28.12%,#e59e33 29.69%,#e4972d 31.25%,#e39028 32.81%,#e28a23 34.38%,#e1831e 35.94%,#e07c1a 37.50%,#de7518 39.06%,#dd6e17 40.62%,#db6716 42.19%,#da6015 43.75%,#d85a15 45.31%,#d45516 46.88%,#d05117 48.44%,#cd4c19 50.00%,#c9471a 51.56%,#c5421c 53.12%,#c23f1e 54.69%,#be3b20 56.25%,#ba3823 57.81%,#b63425 59.38%,#b13128 60.94%,#ab2e2c 62.50%,#a52c30 64.06%,#9f2a34 65.62%,#992738 67.19%,#93253c 68.75%,#8c2341 70.31%,#862145 71.88%,#7f1f4a 73.44%,#781d4b 75.00%,#6f1b4b 76.56%,#66194a 78.12%,#5e1849 79.69%,#551648 81.25%,#4c1547 82.81%,#431347 84.38%,#3b1046 85.94%,#330e45 87.50%,#2c0c3e 89.06%,#240b34 90.62%,#1e0929 92.19%,#18071f 93.75%,#120515 95.31%,#0c030d 96.88%,#060107 98.44%,#000000 100.00%)"></div>
<div style="position:absolute;left:2241px;top:336px;width:62px;height:1px;background:#000"></div>
<div class="cl" style="top:308px">0.4</div>
<div style="position:absolute;left:2241px;top:534px;width:62px;height:1px;background:#000"></div>
<div class="cl" style="top:506px">0.3</div>
<div style="position:absolute;left:2241px;top:732px;width:62px;height:1px;background:#000"></div>
<div class="cl" style="top:704px">0.2</div>
<div style="position:absolute;left:2241px;top:930px;width:62px;height:1px;background:#000"></div>
<div class="cl" style="top:902px">0.1</div>
<div style="position:absolute;left:2241px;top:1128px;width:62px;height:1px;background:#000"></div>
<div class="cl" style="top:1100px">0</div>
<div style="position:absolute;left:2241px;top:1326px;width:62px;height:1px;background:#000"></div>
<div class="cl" style="top:1298px"><span style="margin-right:-3px">&ndash;</span>0.1</div>
<div id="xt">Time delay: t(L1) - t(H1) [s]</div>
<div id="yt"><span>Frequency [Hz]</span></div>
<div id="ct"><span>Cross-correlation <span class="sym">&xi;</span></span></div>
</body></html>
